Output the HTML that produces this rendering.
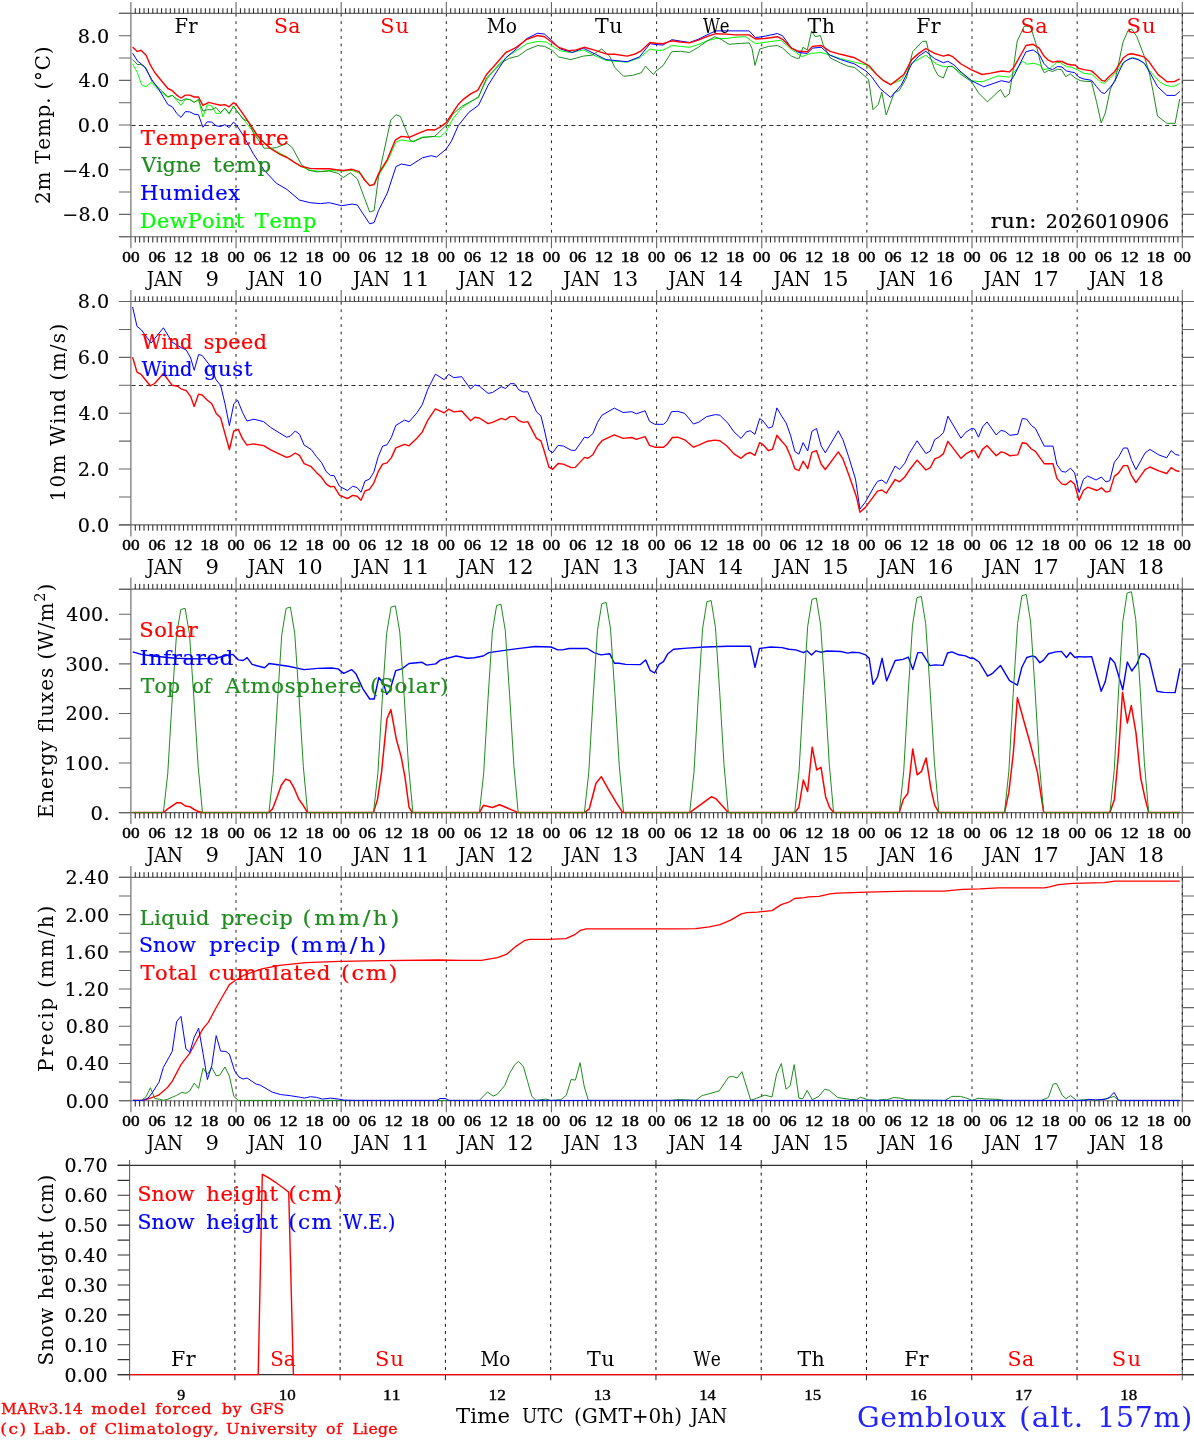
<!DOCTYPE html><html><head><meta charset="utf-8"><title>Gembloux meteogram</title>
<style>html,body{margin:0;padding:0;background:#fff;overflow:hidden;}svg{display:block;}text{font-family:"DejaVu Serif", "Liberation Serif", serif;font-kerning:none;font-variant-ligatures:none;font-feature-settings:"liga" 0,"clig" 0;}</style></head><body>
<svg width="1194" height="1440" viewBox="0 0 1194 1440">
<rect width="1194" height="1440" fill="#fff"/>
<g stroke="#666" stroke-width="1.1" fill="none">
<path d="M118.9 13.4H1194M118.9 236.7H1194"/>
<path stroke="#666" d="M130.9 1.9V248.2M1182.3 1.9V248.2"/>
</g>
<path stroke="#222" stroke-width="1" d="M135.28 8.2V13.4M135.28 236.7V242.5M139.66 8.2V13.4M139.66 236.7V242.5M144.04 8.2V13.4M144.04 236.7V242.5M148.42 8.2V13.4M148.42 236.7V242.5M152.8 8.2V13.4M152.8 236.7V242.5M157.19 8.2V13.4M157.19 236.7V242.5M161.57 8.2V13.4M161.57 236.7V242.5M165.95 8.2V13.4M165.95 236.7V242.5M170.33 8.2V13.4M170.33 236.7V242.5M174.71 8.2V13.4M174.71 236.7V242.5M179.09 8.2V13.4M179.09 236.7V242.5M183.47 8.2V13.4M183.47 236.7V242.5M187.85 8.2V13.4M187.85 236.7V242.5M192.23 8.2V13.4M192.23 236.7V242.5M196.61 8.2V13.4M196.61 236.7V242.5M200.99 8.2V13.4M200.99 236.7V242.5M205.37 8.2V13.4M205.37 236.7V242.5M209.75 8.2V13.4M209.75 236.7V242.5M214.14 8.2V13.4M214.14 236.7V242.5M218.52 8.2V13.4M218.52 236.7V242.5M222.9 8.2V13.4M222.9 236.7V242.5M227.28 8.2V13.4M227.28 236.7V242.5M231.66 8.2V13.4M231.66 236.7V242.5M240.42 8.2V13.4M240.42 236.7V242.5M244.8 8.2V13.4M244.8 236.7V242.5M249.18 8.2V13.4M249.18 236.7V242.5M253.56 8.2V13.4M253.56 236.7V242.5M257.94 8.2V13.4M257.94 236.7V242.5M262.32 8.2V13.4M262.32 236.7V242.5M266.71 8.2V13.4M266.71 236.7V242.5M271.09 8.2V13.4M271.09 236.7V242.5M275.47 8.2V13.4M275.47 236.7V242.5M279.85 8.2V13.4M279.85 236.7V242.5M284.23 8.2V13.4M284.23 236.7V242.5M288.61 8.2V13.4M288.61 236.7V242.5M292.99 8.2V13.4M292.99 236.7V242.5M297.37 8.2V13.4M297.37 236.7V242.5M301.75 8.2V13.4M301.75 236.7V242.5M306.13 8.2V13.4M306.13 236.7V242.5M310.51 8.2V13.4M310.51 236.7V242.5M314.89 8.2V13.4M314.89 236.7V242.5M319.28 8.2V13.4M319.28 236.7V242.5M323.66 8.2V13.4M323.66 236.7V242.5M328.04 8.2V13.4M328.04 236.7V242.5M332.42 8.2V13.4M332.42 236.7V242.5M336.8 8.2V13.4M336.8 236.7V242.5M345.56 8.2V13.4M345.56 236.7V242.5M349.94 8.2V13.4M349.94 236.7V242.5M354.32 8.2V13.4M354.32 236.7V242.5M358.7 8.2V13.4M358.7 236.7V242.5M363.08 8.2V13.4M363.08 236.7V242.5M367.46 8.2V13.4M367.46 236.7V242.5M371.85 8.2V13.4M371.85 236.7V242.5M376.23 8.2V13.4M376.23 236.7V242.5M380.61 8.2V13.4M380.61 236.7V242.5M384.99 8.2V13.4M384.99 236.7V242.5M389.37 8.2V13.4M389.37 236.7V242.5M393.75 8.2V13.4M393.75 236.7V242.5M398.13 8.2V13.4M398.13 236.7V242.5M402.51 8.2V13.4M402.51 236.7V242.5M406.89 8.2V13.4M406.89 236.7V242.5M411.27 8.2V13.4M411.27 236.7V242.5M415.65 8.2V13.4M415.65 236.7V242.5M420.03 8.2V13.4M420.03 236.7V242.5M424.42 8.2V13.4M424.42 236.7V242.5M428.8 8.2V13.4M428.8 236.7V242.5M433.18 8.2V13.4M433.18 236.7V242.5M437.56 8.2V13.4M437.56 236.7V242.5M441.94 8.2V13.4M441.94 236.7V242.5M450.7 8.2V13.4M450.7 236.7V242.5M455.08 8.2V13.4M455.08 236.7V242.5M459.46 8.2V13.4M459.46 236.7V242.5M463.84 8.2V13.4M463.84 236.7V242.5M468.22 8.2V13.4M468.22 236.7V242.5M472.61 8.2V13.4M472.61 236.7V242.5M476.99 8.2V13.4M476.99 236.7V242.5M481.37 8.2V13.4M481.37 236.7V242.5M485.75 8.2V13.4M485.75 236.7V242.5M490.13 8.2V13.4M490.13 236.7V242.5M494.51 8.2V13.4M494.51 236.7V242.5M498.89 8.2V13.4M498.89 236.7V242.5M503.27 8.2V13.4M503.27 236.7V242.5M507.65 8.2V13.4M507.65 236.7V242.5M512.03 8.2V13.4M512.03 236.7V242.5M516.41 8.2V13.4M516.41 236.7V242.5M520.79 8.2V13.4M520.79 236.7V242.5M525.17 8.2V13.4M525.17 236.7V242.5M529.56 8.2V13.4M529.56 236.7V242.5M533.94 8.2V13.4M533.94 236.7V242.5M538.32 8.2V13.4M538.32 236.7V242.5M542.7 8.2V13.4M542.7 236.7V242.5M547.08 8.2V13.4M547.08 236.7V242.5M555.84 8.2V13.4M555.84 236.7V242.5M560.22 8.2V13.4M560.22 236.7V242.5M564.6 8.2V13.4M564.6 236.7V242.5M568.98 8.2V13.4M568.98 236.7V242.5M573.36 8.2V13.4M573.36 236.7V242.5M577.74 8.2V13.4M577.74 236.7V242.5M582.13 8.2V13.4M582.13 236.7V242.5M586.51 8.2V13.4M586.51 236.7V242.5M590.89 8.2V13.4M590.89 236.7V242.5M595.27 8.2V13.4M595.27 236.7V242.5M599.65 8.2V13.4M599.65 236.7V242.5M604.03 8.2V13.4M604.03 236.7V242.5M608.41 8.2V13.4M608.41 236.7V242.5M612.79 8.2V13.4M612.79 236.7V242.5M617.17 8.2V13.4M617.17 236.7V242.5M621.55 8.2V13.4M621.55 236.7V242.5M625.93 8.2V13.4M625.93 236.7V242.5M630.31 8.2V13.4M630.31 236.7V242.5M634.7 8.2V13.4M634.7 236.7V242.5M639.08 8.2V13.4M639.08 236.7V242.5M643.46 8.2V13.4M643.46 236.7V242.5M647.84 8.2V13.4M647.84 236.7V242.5M652.22 8.2V13.4M652.22 236.7V242.5M660.98 8.2V13.4M660.98 236.7V242.5M665.36 8.2V13.4M665.36 236.7V242.5M669.74 8.2V13.4M669.74 236.7V242.5M674.12 8.2V13.4M674.12 236.7V242.5M678.5 8.2V13.4M678.5 236.7V242.5M682.88 8.2V13.4M682.88 236.7V242.5M687.27 8.2V13.4M687.27 236.7V242.5M691.65 8.2V13.4M691.65 236.7V242.5M696.03 8.2V13.4M696.03 236.7V242.5M700.41 8.2V13.4M700.41 236.7V242.5M704.79 8.2V13.4M704.79 236.7V242.5M709.17 8.2V13.4M709.17 236.7V242.5M713.55 8.2V13.4M713.55 236.7V242.5M717.93 8.2V13.4M717.93 236.7V242.5M722.31 8.2V13.4M722.31 236.7V242.5M726.69 8.2V13.4M726.69 236.7V242.5M731.07 8.2V13.4M731.07 236.7V242.5M735.45 8.2V13.4M735.45 236.7V242.5M739.84 8.2V13.4M739.84 236.7V242.5M744.22 8.2V13.4M744.22 236.7V242.5M748.6 8.2V13.4M748.6 236.7V242.5M752.98 8.2V13.4M752.98 236.7V242.5M757.36 8.2V13.4M757.36 236.7V242.5M766.12 8.2V13.4M766.12 236.7V242.5M770.5 8.2V13.4M770.5 236.7V242.5M774.88 8.2V13.4M774.88 236.7V242.5M779.26 8.2V13.4M779.26 236.7V242.5M783.64 8.2V13.4M783.64 236.7V242.5M788.02 8.2V13.4M788.02 236.7V242.5M792.41 8.2V13.4M792.41 236.7V242.5M796.79 8.2V13.4M796.79 236.7V242.5M801.17 8.2V13.4M801.17 236.7V242.5M805.55 8.2V13.4M805.55 236.7V242.5M809.93 8.2V13.4M809.93 236.7V242.5M814.31 8.2V13.4M814.31 236.7V242.5M818.69 8.2V13.4M818.69 236.7V242.5M823.07 8.2V13.4M823.07 236.7V242.5M827.45 8.2V13.4M827.45 236.7V242.5M831.83 8.2V13.4M831.83 236.7V242.5M836.21 8.2V13.4M836.21 236.7V242.5M840.59 8.2V13.4M840.59 236.7V242.5M844.98 8.2V13.4M844.98 236.7V242.5M849.36 8.2V13.4M849.36 236.7V242.5M853.74 8.2V13.4M853.74 236.7V242.5M858.12 8.2V13.4M858.12 236.7V242.5M862.5 8.2V13.4M862.5 236.7V242.5M871.26 8.2V13.4M871.26 236.7V242.5M875.64 8.2V13.4M875.64 236.7V242.5M880.02 8.2V13.4M880.02 236.7V242.5M884.4 8.2V13.4M884.4 236.7V242.5M888.78 8.2V13.4M888.78 236.7V242.5M893.16 8.2V13.4M893.16 236.7V242.5M897.55 8.2V13.4M897.55 236.7V242.5M901.93 8.2V13.4M901.93 236.7V242.5M906.31 8.2V13.4M906.31 236.7V242.5M910.69 8.2V13.4M910.69 236.7V242.5M915.07 8.2V13.4M915.07 236.7V242.5M919.45 8.2V13.4M919.45 236.7V242.5M923.83 8.2V13.4M923.83 236.7V242.5M928.21 8.2V13.4M928.21 236.7V242.5M932.59 8.2V13.4M932.59 236.7V242.5M936.97 8.2V13.4M936.97 236.7V242.5M941.35 8.2V13.4M941.35 236.7V242.5M945.73 8.2V13.4M945.73 236.7V242.5M950.12 8.2V13.4M950.12 236.7V242.5M954.5 8.2V13.4M954.5 236.7V242.5M958.88 8.2V13.4M958.88 236.7V242.5M963.26 8.2V13.4M963.26 236.7V242.5M967.64 8.2V13.4M967.64 236.7V242.5M976.4 8.2V13.4M976.4 236.7V242.5M980.78 8.2V13.4M980.78 236.7V242.5M985.16 8.2V13.4M985.16 236.7V242.5M989.54 8.2V13.4M989.54 236.7V242.5M993.92 8.2V13.4M993.92 236.7V242.5M998.3 8.2V13.4M998.3 236.7V242.5M1002.69 8.2V13.4M1002.69 236.7V242.5M1007.07 8.2V13.4M1007.07 236.7V242.5M1011.45 8.2V13.4M1011.45 236.7V242.5M1015.83 8.2V13.4M1015.83 236.7V242.5M1020.21 8.2V13.4M1020.21 236.7V242.5M1024.59 8.2V13.4M1024.59 236.7V242.5M1028.97 8.2V13.4M1028.97 236.7V242.5M1033.35 8.2V13.4M1033.35 236.7V242.5M1037.73 8.2V13.4M1037.73 236.7V242.5M1042.11 8.2V13.4M1042.11 236.7V242.5M1046.49 8.2V13.4M1046.49 236.7V242.5M1050.88 8.2V13.4M1050.88 236.7V242.5M1055.26 8.2V13.4M1055.26 236.7V242.5M1059.64 8.2V13.4M1059.64 236.7V242.5M1064.02 8.2V13.4M1064.02 236.7V242.5M1068.4 8.2V13.4M1068.4 236.7V242.5M1072.78 8.2V13.4M1072.78 236.7V242.5M1081.54 8.2V13.4M1081.54 236.7V242.5M1085.92 8.2V13.4M1085.92 236.7V242.5M1090.3 8.2V13.4M1090.3 236.7V242.5M1094.68 8.2V13.4M1094.68 236.7V242.5M1099.06 8.2V13.4M1099.06 236.7V242.5M1103.44 8.2V13.4M1103.44 236.7V242.5M1107.83 8.2V13.4M1107.83 236.7V242.5M1112.21 8.2V13.4M1112.21 236.7V242.5M1116.59 8.2V13.4M1116.59 236.7V242.5M1120.97 8.2V13.4M1120.97 236.7V242.5M1125.35 8.2V13.4M1125.35 236.7V242.5M1129.73 8.2V13.4M1129.73 236.7V242.5M1134.11 8.2V13.4M1134.11 236.7V242.5M1138.49 8.2V13.4M1138.49 236.7V242.5M1142.87 8.2V13.4M1142.87 236.7V242.5M1147.25 8.2V13.4M1147.25 236.7V242.5M1151.63 8.2V13.4M1151.63 236.7V242.5M1156.01 8.2V13.4M1156.01 236.7V242.5M1160.4 8.2V13.4M1160.4 236.7V242.5M1164.78 8.2V13.4M1164.78 236.7V242.5M1169.16 8.2V13.4M1169.16 236.7V242.5M1173.54 8.2V13.4M1173.54 236.7V242.5M1177.92 8.2V13.4M1177.92 236.7V242.5"/>
<path stroke="#666" stroke-width="1.1" d="M236.04 1.9V13.4M236.04 236.7V248.2M341.18 1.9V13.4M341.18 236.7V248.2M446.32 1.9V13.4M446.32 236.7V248.2M551.46 1.9V13.4M551.46 236.7V248.2M656.6 1.9V13.4M656.6 236.7V248.2M761.74 1.9V13.4M761.74 236.7V248.2M866.88 1.9V13.4M866.88 236.7V248.2M972.02 1.9V13.4M972.02 236.7V248.2M1077.16 1.9V13.4M1077.16 236.7V248.2"/>
<g stroke="#666" stroke-width="1.1" fill="none">
<path d="M118.9 301.5H1194M118.9 524.9H1194"/>
<path stroke="#666" d="M130.9 290V536.4M1182.3 290V536.4"/>
</g>
<path stroke="#222" stroke-width="1" d="M135.28 296.3V301.5M135.28 524.9V530.7M139.66 296.3V301.5M139.66 524.9V530.7M144.04 296.3V301.5M144.04 524.9V530.7M148.42 296.3V301.5M148.42 524.9V530.7M152.8 296.3V301.5M152.8 524.9V530.7M157.19 296.3V301.5M157.19 524.9V530.7M161.57 296.3V301.5M161.57 524.9V530.7M165.95 296.3V301.5M165.95 524.9V530.7M170.33 296.3V301.5M170.33 524.9V530.7M174.71 296.3V301.5M174.71 524.9V530.7M179.09 296.3V301.5M179.09 524.9V530.7M183.47 296.3V301.5M183.47 524.9V530.7M187.85 296.3V301.5M187.85 524.9V530.7M192.23 296.3V301.5M192.23 524.9V530.7M196.61 296.3V301.5M196.61 524.9V530.7M200.99 296.3V301.5M200.99 524.9V530.7M205.37 296.3V301.5M205.37 524.9V530.7M209.75 296.3V301.5M209.75 524.9V530.7M214.14 296.3V301.5M214.14 524.9V530.7M218.52 296.3V301.5M218.52 524.9V530.7M222.9 296.3V301.5M222.9 524.9V530.7M227.28 296.3V301.5M227.28 524.9V530.7M231.66 296.3V301.5M231.66 524.9V530.7M240.42 296.3V301.5M240.42 524.9V530.7M244.8 296.3V301.5M244.8 524.9V530.7M249.18 296.3V301.5M249.18 524.9V530.7M253.56 296.3V301.5M253.56 524.9V530.7M257.94 296.3V301.5M257.94 524.9V530.7M262.32 296.3V301.5M262.32 524.9V530.7M266.71 296.3V301.5M266.71 524.9V530.7M271.09 296.3V301.5M271.09 524.9V530.7M275.47 296.3V301.5M275.47 524.9V530.7M279.85 296.3V301.5M279.85 524.9V530.7M284.23 296.3V301.5M284.23 524.9V530.7M288.61 296.3V301.5M288.61 524.9V530.7M292.99 296.3V301.5M292.99 524.9V530.7M297.37 296.3V301.5M297.37 524.9V530.7M301.75 296.3V301.5M301.75 524.9V530.7M306.13 296.3V301.5M306.13 524.9V530.7M310.51 296.3V301.5M310.51 524.9V530.7M314.89 296.3V301.5M314.89 524.9V530.7M319.28 296.3V301.5M319.28 524.9V530.7M323.66 296.3V301.5M323.66 524.9V530.7M328.04 296.3V301.5M328.04 524.9V530.7M332.42 296.3V301.5M332.42 524.9V530.7M336.8 296.3V301.5M336.8 524.9V530.7M345.56 296.3V301.5M345.56 524.9V530.7M349.94 296.3V301.5M349.94 524.9V530.7M354.32 296.3V301.5M354.32 524.9V530.7M358.7 296.3V301.5M358.7 524.9V530.7M363.08 296.3V301.5M363.08 524.9V530.7M367.46 296.3V301.5M367.46 524.9V530.7M371.85 296.3V301.5M371.85 524.9V530.7M376.23 296.3V301.5M376.23 524.9V530.7M380.61 296.3V301.5M380.61 524.9V530.7M384.99 296.3V301.5M384.99 524.9V530.7M389.37 296.3V301.5M389.37 524.9V530.7M393.75 296.3V301.5M393.75 524.9V530.7M398.13 296.3V301.5M398.13 524.9V530.7M402.51 296.3V301.5M402.51 524.9V530.7M406.89 296.3V301.5M406.89 524.9V530.7M411.27 296.3V301.5M411.27 524.9V530.7M415.65 296.3V301.5M415.65 524.9V530.7M420.03 296.3V301.5M420.03 524.9V530.7M424.42 296.3V301.5M424.42 524.9V530.7M428.8 296.3V301.5M428.8 524.9V530.7M433.18 296.3V301.5M433.18 524.9V530.7M437.56 296.3V301.5M437.56 524.9V530.7M441.94 296.3V301.5M441.94 524.9V530.7M450.7 296.3V301.5M450.7 524.9V530.7M455.08 296.3V301.5M455.08 524.9V530.7M459.46 296.3V301.5M459.46 524.9V530.7M463.84 296.3V301.5M463.84 524.9V530.7M468.22 296.3V301.5M468.22 524.9V530.7M472.61 296.3V301.5M472.61 524.9V530.7M476.99 296.3V301.5M476.99 524.9V530.7M481.37 296.3V301.5M481.37 524.9V530.7M485.75 296.3V301.5M485.75 524.9V530.7M490.13 296.3V301.5M490.13 524.9V530.7M494.51 296.3V301.5M494.51 524.9V530.7M498.89 296.3V301.5M498.89 524.9V530.7M503.27 296.3V301.5M503.27 524.9V530.7M507.65 296.3V301.5M507.65 524.9V530.7M512.03 296.3V301.5M512.03 524.9V530.7M516.41 296.3V301.5M516.41 524.9V530.7M520.79 296.3V301.5M520.79 524.9V530.7M525.17 296.3V301.5M525.17 524.9V530.7M529.56 296.3V301.5M529.56 524.9V530.7M533.94 296.3V301.5M533.94 524.9V530.7M538.32 296.3V301.5M538.32 524.9V530.7M542.7 296.3V301.5M542.7 524.9V530.7M547.08 296.3V301.5M547.08 524.9V530.7M555.84 296.3V301.5M555.84 524.9V530.7M560.22 296.3V301.5M560.22 524.9V530.7M564.6 296.3V301.5M564.6 524.9V530.7M568.98 296.3V301.5M568.98 524.9V530.7M573.36 296.3V301.5M573.36 524.9V530.7M577.74 296.3V301.5M577.74 524.9V530.7M582.13 296.3V301.5M582.13 524.9V530.7M586.51 296.3V301.5M586.51 524.9V530.7M590.89 296.3V301.5M590.89 524.9V530.7M595.27 296.3V301.5M595.27 524.9V530.7M599.65 296.3V301.5M599.65 524.9V530.7M604.03 296.3V301.5M604.03 524.9V530.7M608.41 296.3V301.5M608.41 524.9V530.7M612.79 296.3V301.5M612.79 524.9V530.7M617.17 296.3V301.5M617.17 524.9V530.7M621.55 296.3V301.5M621.55 524.9V530.7M625.93 296.3V301.5M625.93 524.9V530.7M630.31 296.3V301.5M630.31 524.9V530.7M634.7 296.3V301.5M634.7 524.9V530.7M639.08 296.3V301.5M639.08 524.9V530.7M643.46 296.3V301.5M643.46 524.9V530.7M647.84 296.3V301.5M647.84 524.9V530.7M652.22 296.3V301.5M652.22 524.9V530.7M660.98 296.3V301.5M660.98 524.9V530.7M665.36 296.3V301.5M665.36 524.9V530.7M669.74 296.3V301.5M669.74 524.9V530.7M674.12 296.3V301.5M674.12 524.9V530.7M678.5 296.3V301.5M678.5 524.9V530.7M682.88 296.3V301.5M682.88 524.9V530.7M687.27 296.3V301.5M687.27 524.9V530.7M691.65 296.3V301.5M691.65 524.9V530.7M696.03 296.3V301.5M696.03 524.9V530.7M700.41 296.3V301.5M700.41 524.9V530.7M704.79 296.3V301.5M704.79 524.9V530.7M709.17 296.3V301.5M709.17 524.9V530.7M713.55 296.3V301.5M713.55 524.9V530.7M717.93 296.3V301.5M717.93 524.9V530.7M722.31 296.3V301.5M722.31 524.9V530.7M726.69 296.3V301.5M726.69 524.9V530.7M731.07 296.3V301.5M731.07 524.9V530.7M735.45 296.3V301.5M735.45 524.9V530.7M739.84 296.3V301.5M739.84 524.9V530.7M744.22 296.3V301.5M744.22 524.9V530.7M748.6 296.3V301.5M748.6 524.9V530.7M752.98 296.3V301.5M752.98 524.9V530.7M757.36 296.3V301.5M757.36 524.9V530.7M766.12 296.3V301.5M766.12 524.9V530.7M770.5 296.3V301.5M770.5 524.9V530.7M774.88 296.3V301.5M774.88 524.9V530.7M779.26 296.3V301.5M779.26 524.9V530.7M783.64 296.3V301.5M783.64 524.9V530.7M788.02 296.3V301.5M788.02 524.9V530.7M792.41 296.3V301.5M792.41 524.9V530.7M796.79 296.3V301.5M796.79 524.9V530.7M801.17 296.3V301.5M801.17 524.9V530.7M805.55 296.3V301.5M805.55 524.9V530.7M809.93 296.3V301.5M809.93 524.9V530.7M814.31 296.3V301.5M814.31 524.9V530.7M818.69 296.3V301.5M818.69 524.9V530.7M823.07 296.3V301.5M823.07 524.9V530.7M827.45 296.3V301.5M827.45 524.9V530.7M831.83 296.3V301.5M831.83 524.9V530.7M836.21 296.3V301.5M836.21 524.9V530.7M840.59 296.3V301.5M840.59 524.9V530.7M844.98 296.3V301.5M844.98 524.9V530.7M849.36 296.3V301.5M849.36 524.9V530.7M853.74 296.3V301.5M853.74 524.9V530.7M858.12 296.3V301.5M858.12 524.9V530.7M862.5 296.3V301.5M862.5 524.9V530.7M871.26 296.3V301.5M871.26 524.9V530.7M875.64 296.3V301.5M875.64 524.9V530.7M880.02 296.3V301.5M880.02 524.9V530.7M884.4 296.3V301.5M884.4 524.9V530.7M888.78 296.3V301.5M888.78 524.9V530.7M893.16 296.3V301.5M893.16 524.9V530.7M897.55 296.3V301.5M897.55 524.9V530.7M901.93 296.3V301.5M901.93 524.9V530.7M906.31 296.3V301.5M906.31 524.9V530.7M910.69 296.3V301.5M910.69 524.9V530.7M915.07 296.3V301.5M915.07 524.9V530.7M919.45 296.3V301.5M919.45 524.9V530.7M923.83 296.3V301.5M923.83 524.9V530.7M928.21 296.3V301.5M928.21 524.9V530.7M932.59 296.3V301.5M932.59 524.9V530.7M936.97 296.3V301.5M936.97 524.9V530.7M941.35 296.3V301.5M941.35 524.9V530.7M945.73 296.3V301.5M945.73 524.9V530.7M950.12 296.3V301.5M950.12 524.9V530.7M954.5 296.3V301.5M954.5 524.9V530.7M958.88 296.3V301.5M958.88 524.9V530.7M963.26 296.3V301.5M963.26 524.9V530.7M967.64 296.3V301.5M967.64 524.9V530.7M976.4 296.3V301.5M976.4 524.9V530.7M980.78 296.3V301.5M980.78 524.9V530.7M985.16 296.3V301.5M985.16 524.9V530.7M989.54 296.3V301.5M989.54 524.9V530.7M993.92 296.3V301.5M993.92 524.9V530.7M998.3 296.3V301.5M998.3 524.9V530.7M1002.69 296.3V301.5M1002.69 524.9V530.7M1007.07 296.3V301.5M1007.07 524.9V530.7M1011.45 296.3V301.5M1011.45 524.9V530.7M1015.83 296.3V301.5M1015.83 524.9V530.7M1020.21 296.3V301.5M1020.21 524.9V530.7M1024.59 296.3V301.5M1024.59 524.9V530.7M1028.97 296.3V301.5M1028.97 524.9V530.7M1033.35 296.3V301.5M1033.35 524.9V530.7M1037.73 296.3V301.5M1037.73 524.9V530.7M1042.11 296.3V301.5M1042.11 524.9V530.7M1046.49 296.3V301.5M1046.49 524.9V530.7M1050.88 296.3V301.5M1050.88 524.9V530.7M1055.26 296.3V301.5M1055.26 524.9V530.7M1059.64 296.3V301.5M1059.64 524.9V530.7M1064.02 296.3V301.5M1064.02 524.9V530.7M1068.4 296.3V301.5M1068.4 524.9V530.7M1072.78 296.3V301.5M1072.78 524.9V530.7M1081.54 296.3V301.5M1081.54 524.9V530.7M1085.92 296.3V301.5M1085.92 524.9V530.7M1090.3 296.3V301.5M1090.3 524.9V530.7M1094.68 296.3V301.5M1094.68 524.9V530.7M1099.06 296.3V301.5M1099.06 524.9V530.7M1103.44 296.3V301.5M1103.44 524.9V530.7M1107.83 296.3V301.5M1107.83 524.9V530.7M1112.21 296.3V301.5M1112.21 524.9V530.7M1116.59 296.3V301.5M1116.59 524.9V530.7M1120.97 296.3V301.5M1120.97 524.9V530.7M1125.35 296.3V301.5M1125.35 524.9V530.7M1129.73 296.3V301.5M1129.73 524.9V530.7M1134.11 296.3V301.5M1134.11 524.9V530.7M1138.49 296.3V301.5M1138.49 524.9V530.7M1142.87 296.3V301.5M1142.87 524.9V530.7M1147.25 296.3V301.5M1147.25 524.9V530.7M1151.63 296.3V301.5M1151.63 524.9V530.7M1156.01 296.3V301.5M1156.01 524.9V530.7M1160.4 296.3V301.5M1160.4 524.9V530.7M1164.78 296.3V301.5M1164.78 524.9V530.7M1169.16 296.3V301.5M1169.16 524.9V530.7M1173.54 296.3V301.5M1173.54 524.9V530.7M1177.92 296.3V301.5M1177.92 524.9V530.7"/>
<path stroke="#666" stroke-width="1.1" d="M236.04 290V301.5M236.04 524.9V536.4M341.18 290V301.5M341.18 524.9V536.4M446.32 290V301.5M446.32 524.9V536.4M551.46 290V301.5M551.46 524.9V536.4M656.6 290V301.5M656.6 524.9V536.4M761.74 290V301.5M761.74 524.9V536.4M866.88 290V301.5M866.88 524.9V536.4M972.02 290V301.5M972.02 524.9V536.4M1077.16 290V301.5M1077.16 524.9V536.4"/>
<g stroke="#666" stroke-width="1.1" fill="none">
<path d="M118.9 589.1H1194M118.9 812.6H1194"/>
<path stroke="#666" d="M130.9 577.6V824.1M1182.3 577.6V824.1"/>
</g>
<path stroke="#222" stroke-width="1" d="M135.28 583.9V589.1M135.28 812.6V818.4M139.66 583.9V589.1M139.66 812.6V818.4M144.04 583.9V589.1M144.04 812.6V818.4M148.42 583.9V589.1M148.42 812.6V818.4M152.8 583.9V589.1M152.8 812.6V818.4M157.19 583.9V589.1M157.19 812.6V818.4M161.57 583.9V589.1M161.57 812.6V818.4M165.95 583.9V589.1M165.95 812.6V818.4M170.33 583.9V589.1M170.33 812.6V818.4M174.71 583.9V589.1M174.71 812.6V818.4M179.09 583.9V589.1M179.09 812.6V818.4M183.47 583.9V589.1M183.47 812.6V818.4M187.85 583.9V589.1M187.85 812.6V818.4M192.23 583.9V589.1M192.23 812.6V818.4M196.61 583.9V589.1M196.61 812.6V818.4M200.99 583.9V589.1M200.99 812.6V818.4M205.37 583.9V589.1M205.37 812.6V818.4M209.75 583.9V589.1M209.75 812.6V818.4M214.14 583.9V589.1M214.14 812.6V818.4M218.52 583.9V589.1M218.52 812.6V818.4M222.9 583.9V589.1M222.9 812.6V818.4M227.28 583.9V589.1M227.28 812.6V818.4M231.66 583.9V589.1M231.66 812.6V818.4M240.42 583.9V589.1M240.42 812.6V818.4M244.8 583.9V589.1M244.8 812.6V818.4M249.18 583.9V589.1M249.18 812.6V818.4M253.56 583.9V589.1M253.56 812.6V818.4M257.94 583.9V589.1M257.94 812.6V818.4M262.32 583.9V589.1M262.32 812.6V818.4M266.71 583.9V589.1M266.71 812.6V818.4M271.09 583.9V589.1M271.09 812.6V818.4M275.47 583.9V589.1M275.47 812.6V818.4M279.85 583.9V589.1M279.85 812.6V818.4M284.23 583.9V589.1M284.23 812.6V818.4M288.61 583.9V589.1M288.61 812.6V818.4M292.99 583.9V589.1M292.99 812.6V818.4M297.37 583.9V589.1M297.37 812.6V818.4M301.75 583.9V589.1M301.75 812.6V818.4M306.13 583.9V589.1M306.13 812.6V818.4M310.51 583.9V589.1M310.51 812.6V818.4M314.89 583.9V589.1M314.89 812.6V818.4M319.28 583.9V589.1M319.28 812.6V818.4M323.66 583.9V589.1M323.66 812.6V818.4M328.04 583.9V589.1M328.04 812.6V818.4M332.42 583.9V589.1M332.42 812.6V818.4M336.8 583.9V589.1M336.8 812.6V818.4M345.56 583.9V589.1M345.56 812.6V818.4M349.94 583.9V589.1M349.94 812.6V818.4M354.32 583.9V589.1M354.32 812.6V818.4M358.7 583.9V589.1M358.7 812.6V818.4M363.08 583.9V589.1M363.08 812.6V818.4M367.46 583.9V589.1M367.46 812.6V818.4M371.85 583.9V589.1M371.85 812.6V818.4M376.23 583.9V589.1M376.23 812.6V818.4M380.61 583.9V589.1M380.61 812.6V818.4M384.99 583.9V589.1M384.99 812.6V818.4M389.37 583.9V589.1M389.37 812.6V818.4M393.75 583.9V589.1M393.75 812.6V818.4M398.13 583.9V589.1M398.13 812.6V818.4M402.51 583.9V589.1M402.51 812.6V818.4M406.89 583.9V589.1M406.89 812.6V818.4M411.27 583.9V589.1M411.27 812.6V818.4M415.65 583.9V589.1M415.65 812.6V818.4M420.03 583.9V589.1M420.03 812.6V818.4M424.42 583.9V589.1M424.42 812.6V818.4M428.8 583.9V589.1M428.8 812.6V818.4M433.18 583.9V589.1M433.18 812.6V818.4M437.56 583.9V589.1M437.56 812.6V818.4M441.94 583.9V589.1M441.94 812.6V818.4M450.7 583.9V589.1M450.7 812.6V818.4M455.08 583.9V589.1M455.08 812.6V818.4M459.46 583.9V589.1M459.46 812.6V818.4M463.84 583.9V589.1M463.84 812.6V818.4M468.22 583.9V589.1M468.22 812.6V818.4M472.61 583.9V589.1M472.61 812.6V818.4M476.99 583.9V589.1M476.99 812.6V818.4M481.37 583.9V589.1M481.37 812.6V818.4M485.75 583.9V589.1M485.75 812.6V818.4M490.13 583.9V589.1M490.13 812.6V818.4M494.51 583.9V589.1M494.51 812.6V818.4M498.89 583.9V589.1M498.89 812.6V818.4M503.27 583.9V589.1M503.27 812.6V818.4M507.65 583.9V589.1M507.65 812.6V818.4M512.03 583.9V589.1M512.03 812.6V818.4M516.41 583.9V589.1M516.41 812.6V818.4M520.79 583.9V589.1M520.79 812.6V818.4M525.17 583.9V589.1M525.17 812.6V818.4M529.56 583.9V589.1M529.56 812.6V818.4M533.94 583.9V589.1M533.94 812.6V818.4M538.32 583.9V589.1M538.32 812.6V818.4M542.7 583.9V589.1M542.7 812.6V818.4M547.08 583.9V589.1M547.08 812.6V818.4M555.84 583.9V589.1M555.84 812.6V818.4M560.22 583.9V589.1M560.22 812.6V818.4M564.6 583.9V589.1M564.6 812.6V818.4M568.98 583.9V589.1M568.98 812.6V818.4M573.36 583.9V589.1M573.36 812.6V818.4M577.74 583.9V589.1M577.74 812.6V818.4M582.13 583.9V589.1M582.13 812.6V818.4M586.51 583.9V589.1M586.51 812.6V818.4M590.89 583.9V589.1M590.89 812.6V818.4M595.27 583.9V589.1M595.27 812.6V818.4M599.65 583.9V589.1M599.65 812.6V818.4M604.03 583.9V589.1M604.03 812.6V818.4M608.41 583.9V589.1M608.41 812.6V818.4M612.79 583.9V589.1M612.79 812.6V818.4M617.17 583.9V589.1M617.17 812.6V818.4M621.55 583.9V589.1M621.55 812.6V818.4M625.93 583.9V589.1M625.93 812.6V818.4M630.31 583.9V589.1M630.31 812.6V818.4M634.7 583.9V589.1M634.7 812.6V818.4M639.08 583.9V589.1M639.08 812.6V818.4M643.46 583.9V589.1M643.46 812.6V818.4M647.84 583.9V589.1M647.84 812.6V818.4M652.22 583.9V589.1M652.22 812.6V818.4M660.98 583.9V589.1M660.98 812.6V818.4M665.36 583.9V589.1M665.36 812.6V818.4M669.74 583.9V589.1M669.74 812.6V818.4M674.12 583.9V589.1M674.12 812.6V818.4M678.5 583.9V589.1M678.5 812.6V818.4M682.88 583.9V589.1M682.88 812.6V818.4M687.27 583.9V589.1M687.27 812.6V818.4M691.65 583.9V589.1M691.65 812.6V818.4M696.03 583.9V589.1M696.03 812.6V818.4M700.41 583.9V589.1M700.41 812.6V818.4M704.79 583.9V589.1M704.79 812.6V818.4M709.17 583.9V589.1M709.17 812.6V818.4M713.55 583.9V589.1M713.55 812.6V818.4M717.93 583.9V589.1M717.93 812.6V818.4M722.31 583.9V589.1M722.31 812.6V818.4M726.69 583.9V589.1M726.69 812.6V818.4M731.07 583.9V589.1M731.07 812.6V818.4M735.45 583.9V589.1M735.45 812.6V818.4M739.84 583.9V589.1M739.84 812.6V818.4M744.22 583.9V589.1M744.22 812.6V818.4M748.6 583.9V589.1M748.6 812.6V818.4M752.98 583.9V589.1M752.98 812.6V818.4M757.36 583.9V589.1M757.36 812.6V818.4M766.12 583.9V589.1M766.12 812.6V818.4M770.5 583.9V589.1M770.5 812.6V818.4M774.88 583.9V589.1M774.88 812.6V818.4M779.26 583.9V589.1M779.26 812.6V818.4M783.64 583.9V589.1M783.64 812.6V818.4M788.02 583.9V589.1M788.02 812.6V818.4M792.41 583.9V589.1M792.41 812.6V818.4M796.79 583.9V589.1M796.79 812.6V818.4M801.17 583.9V589.1M801.17 812.6V818.4M805.55 583.9V589.1M805.55 812.6V818.4M809.93 583.9V589.1M809.93 812.6V818.4M814.31 583.9V589.1M814.31 812.6V818.4M818.69 583.9V589.1M818.69 812.6V818.4M823.07 583.9V589.1M823.07 812.6V818.4M827.45 583.9V589.1M827.45 812.6V818.4M831.83 583.9V589.1M831.83 812.6V818.4M836.21 583.9V589.1M836.21 812.6V818.4M840.59 583.9V589.1M840.59 812.6V818.4M844.98 583.9V589.1M844.98 812.6V818.4M849.36 583.9V589.1M849.36 812.6V818.4M853.74 583.9V589.1M853.74 812.6V818.4M858.12 583.9V589.1M858.12 812.6V818.4M862.5 583.9V589.1M862.5 812.6V818.4M871.26 583.9V589.1M871.26 812.6V818.4M875.64 583.9V589.1M875.64 812.6V818.4M880.02 583.9V589.1M880.02 812.6V818.4M884.4 583.9V589.1M884.4 812.6V818.4M888.78 583.9V589.1M888.78 812.6V818.4M893.16 583.9V589.1M893.16 812.6V818.4M897.55 583.9V589.1M897.55 812.6V818.4M901.93 583.9V589.1M901.93 812.6V818.4M906.31 583.9V589.1M906.31 812.6V818.4M910.69 583.9V589.1M910.69 812.6V818.4M915.07 583.9V589.1M915.07 812.6V818.4M919.45 583.9V589.1M919.45 812.6V818.4M923.83 583.9V589.1M923.83 812.6V818.4M928.21 583.9V589.1M928.21 812.6V818.4M932.59 583.9V589.1M932.59 812.6V818.4M936.97 583.9V589.1M936.97 812.6V818.4M941.35 583.9V589.1M941.35 812.6V818.4M945.73 583.9V589.1M945.73 812.6V818.4M950.12 583.9V589.1M950.12 812.6V818.4M954.5 583.9V589.1M954.5 812.6V818.4M958.88 583.9V589.1M958.88 812.6V818.4M963.26 583.9V589.1M963.26 812.6V818.4M967.64 583.9V589.1M967.64 812.6V818.4M976.4 583.9V589.1M976.4 812.6V818.4M980.78 583.9V589.1M980.78 812.6V818.4M985.16 583.9V589.1M985.16 812.6V818.4M989.54 583.9V589.1M989.54 812.6V818.4M993.92 583.9V589.1M993.92 812.6V818.4M998.3 583.9V589.1M998.3 812.6V818.4M1002.69 583.9V589.1M1002.69 812.6V818.4M1007.07 583.9V589.1M1007.07 812.6V818.4M1011.45 583.9V589.1M1011.45 812.6V818.4M1015.83 583.9V589.1M1015.83 812.6V818.4M1020.21 583.9V589.1M1020.21 812.6V818.4M1024.59 583.9V589.1M1024.59 812.6V818.4M1028.97 583.9V589.1M1028.97 812.6V818.4M1033.35 583.9V589.1M1033.35 812.6V818.4M1037.73 583.9V589.1M1037.73 812.6V818.4M1042.11 583.9V589.1M1042.11 812.6V818.4M1046.49 583.9V589.1M1046.49 812.6V818.4M1050.88 583.9V589.1M1050.88 812.6V818.4M1055.26 583.9V589.1M1055.26 812.6V818.4M1059.64 583.9V589.1M1059.64 812.6V818.4M1064.02 583.9V589.1M1064.02 812.6V818.4M1068.4 583.9V589.1M1068.4 812.6V818.4M1072.78 583.9V589.1M1072.78 812.6V818.4M1081.54 583.9V589.1M1081.54 812.6V818.4M1085.92 583.9V589.1M1085.92 812.6V818.4M1090.3 583.9V589.1M1090.3 812.6V818.4M1094.68 583.9V589.1M1094.68 812.6V818.4M1099.06 583.9V589.1M1099.06 812.6V818.4M1103.44 583.9V589.1M1103.44 812.6V818.4M1107.83 583.9V589.1M1107.83 812.6V818.4M1112.21 583.9V589.1M1112.21 812.6V818.4M1116.59 583.9V589.1M1116.59 812.6V818.4M1120.97 583.9V589.1M1120.97 812.6V818.4M1125.35 583.9V589.1M1125.35 812.6V818.4M1129.73 583.9V589.1M1129.73 812.6V818.4M1134.11 583.9V589.1M1134.11 812.6V818.4M1138.49 583.9V589.1M1138.49 812.6V818.4M1142.87 583.9V589.1M1142.87 812.6V818.4M1147.25 583.9V589.1M1147.25 812.6V818.4M1151.63 583.9V589.1M1151.63 812.6V818.4M1156.01 583.9V589.1M1156.01 812.6V818.4M1160.4 583.9V589.1M1160.4 812.6V818.4M1164.78 583.9V589.1M1164.78 812.6V818.4M1169.16 583.9V589.1M1169.16 812.6V818.4M1173.54 583.9V589.1M1173.54 812.6V818.4M1177.92 583.9V589.1M1177.92 812.6V818.4"/>
<path stroke="#666" stroke-width="1.1" d="M236.04 577.6V589.1M236.04 812.6V824.1M341.18 577.6V589.1M341.18 812.6V824.1M446.32 577.6V589.1M446.32 812.6V824.1M551.46 577.6V589.1M551.46 812.6V824.1M656.6 577.6V589.1M656.6 812.6V824.1M761.74 577.6V589.1M761.74 812.6V824.1M866.88 577.6V589.1M866.88 812.6V824.1M972.02 577.6V589.1M972.02 812.6V824.1M1077.16 577.6V589.1M1077.16 812.6V824.1"/>
<g stroke="#666" stroke-width="1.1" fill="none">
<path d="M118.9 877.4H1194M118.9 1100.7H1194"/>
<path stroke="#666" d="M130.9 865.9V1112.2M1182.3 865.9V1112.2"/>
</g>
<path stroke="#222" stroke-width="1" d="M135.28 872.2V877.4M135.28 1100.7V1106.5M139.66 872.2V877.4M139.66 1100.7V1106.5M144.04 872.2V877.4M144.04 1100.7V1106.5M148.42 872.2V877.4M148.42 1100.7V1106.5M152.8 872.2V877.4M152.8 1100.7V1106.5M157.19 872.2V877.4M157.19 1100.7V1106.5M161.57 872.2V877.4M161.57 1100.7V1106.5M165.95 872.2V877.4M165.95 1100.7V1106.5M170.33 872.2V877.4M170.33 1100.7V1106.5M174.71 872.2V877.4M174.71 1100.7V1106.5M179.09 872.2V877.4M179.09 1100.7V1106.5M183.47 872.2V877.4M183.47 1100.7V1106.5M187.85 872.2V877.4M187.85 1100.7V1106.5M192.23 872.2V877.4M192.23 1100.7V1106.5M196.61 872.2V877.4M196.61 1100.7V1106.5M200.99 872.2V877.4M200.99 1100.7V1106.5M205.37 872.2V877.4M205.37 1100.7V1106.5M209.75 872.2V877.4M209.75 1100.7V1106.5M214.14 872.2V877.4M214.14 1100.7V1106.5M218.52 872.2V877.4M218.52 1100.7V1106.5M222.9 872.2V877.4M222.9 1100.7V1106.5M227.28 872.2V877.4M227.28 1100.7V1106.5M231.66 872.2V877.4M231.66 1100.7V1106.5M240.42 872.2V877.4M240.42 1100.7V1106.5M244.8 872.2V877.4M244.8 1100.7V1106.5M249.18 872.2V877.4M249.18 1100.7V1106.5M253.56 872.2V877.4M253.56 1100.7V1106.5M257.94 872.2V877.4M257.94 1100.7V1106.5M262.32 872.2V877.4M262.32 1100.7V1106.5M266.71 872.2V877.4M266.71 1100.7V1106.5M271.09 872.2V877.4M271.09 1100.7V1106.5M275.47 872.2V877.4M275.47 1100.7V1106.5M279.85 872.2V877.4M279.85 1100.7V1106.5M284.23 872.2V877.4M284.23 1100.7V1106.5M288.61 872.2V877.4M288.61 1100.7V1106.5M292.99 872.2V877.4M292.99 1100.7V1106.5M297.37 872.2V877.4M297.37 1100.7V1106.5M301.75 872.2V877.4M301.75 1100.7V1106.5M306.13 872.2V877.4M306.13 1100.7V1106.5M310.51 872.2V877.4M310.51 1100.7V1106.5M314.89 872.2V877.4M314.89 1100.7V1106.5M319.28 872.2V877.4M319.28 1100.7V1106.5M323.66 872.2V877.4M323.66 1100.7V1106.5M328.04 872.2V877.4M328.04 1100.7V1106.5M332.42 872.2V877.4M332.42 1100.7V1106.5M336.8 872.2V877.4M336.8 1100.7V1106.5M345.56 872.2V877.4M345.56 1100.7V1106.5M349.94 872.2V877.4M349.94 1100.7V1106.5M354.32 872.2V877.4M354.32 1100.7V1106.5M358.7 872.2V877.4M358.7 1100.7V1106.5M363.08 872.2V877.4M363.08 1100.7V1106.5M367.46 872.2V877.4M367.46 1100.7V1106.5M371.85 872.2V877.4M371.85 1100.7V1106.5M376.23 872.2V877.4M376.23 1100.7V1106.5M380.61 872.2V877.4M380.61 1100.7V1106.5M384.99 872.2V877.4M384.99 1100.7V1106.5M389.37 872.2V877.4M389.37 1100.7V1106.5M393.75 872.2V877.4M393.75 1100.7V1106.5M398.13 872.2V877.4M398.13 1100.7V1106.5M402.51 872.2V877.4M402.51 1100.7V1106.5M406.89 872.2V877.4M406.89 1100.7V1106.5M411.27 872.2V877.4M411.27 1100.7V1106.5M415.65 872.2V877.4M415.65 1100.7V1106.5M420.03 872.2V877.4M420.03 1100.7V1106.5M424.42 872.2V877.4M424.42 1100.7V1106.5M428.8 872.2V877.4M428.8 1100.7V1106.5M433.18 872.2V877.4M433.18 1100.7V1106.5M437.56 872.2V877.4M437.56 1100.7V1106.5M441.94 872.2V877.4M441.94 1100.7V1106.5M450.7 872.2V877.4M450.7 1100.7V1106.5M455.08 872.2V877.4M455.08 1100.7V1106.5M459.46 872.2V877.4M459.46 1100.7V1106.5M463.84 872.2V877.4M463.84 1100.7V1106.5M468.22 872.2V877.4M468.22 1100.7V1106.5M472.61 872.2V877.4M472.61 1100.7V1106.5M476.99 872.2V877.4M476.99 1100.7V1106.5M481.37 872.2V877.4M481.37 1100.7V1106.5M485.75 872.2V877.4M485.75 1100.7V1106.5M490.13 872.2V877.4M490.13 1100.7V1106.5M494.51 872.2V877.4M494.51 1100.7V1106.5M498.89 872.2V877.4M498.89 1100.7V1106.5M503.27 872.2V877.4M503.27 1100.7V1106.5M507.65 872.2V877.4M507.65 1100.7V1106.5M512.03 872.2V877.4M512.03 1100.7V1106.5M516.41 872.2V877.4M516.41 1100.7V1106.5M520.79 872.2V877.4M520.79 1100.7V1106.5M525.17 872.2V877.4M525.17 1100.7V1106.5M529.56 872.2V877.4M529.56 1100.7V1106.5M533.94 872.2V877.4M533.94 1100.7V1106.5M538.32 872.2V877.4M538.32 1100.7V1106.5M542.7 872.2V877.4M542.7 1100.7V1106.5M547.08 872.2V877.4M547.08 1100.7V1106.5M555.84 872.2V877.4M555.84 1100.7V1106.5M560.22 872.2V877.4M560.22 1100.7V1106.5M564.6 872.2V877.4M564.6 1100.7V1106.5M568.98 872.2V877.4M568.98 1100.7V1106.5M573.36 872.2V877.4M573.36 1100.7V1106.5M577.74 872.2V877.4M577.74 1100.7V1106.5M582.13 872.2V877.4M582.13 1100.7V1106.5M586.51 872.2V877.4M586.51 1100.7V1106.5M590.89 872.2V877.4M590.89 1100.7V1106.5M595.27 872.2V877.4M595.27 1100.7V1106.5M599.65 872.2V877.4M599.65 1100.7V1106.5M604.03 872.2V877.4M604.03 1100.7V1106.5M608.41 872.2V877.4M608.41 1100.7V1106.5M612.79 872.2V877.4M612.79 1100.7V1106.5M617.17 872.2V877.4M617.17 1100.7V1106.5M621.55 872.2V877.4M621.55 1100.7V1106.5M625.93 872.2V877.4M625.93 1100.7V1106.5M630.31 872.2V877.4M630.31 1100.7V1106.5M634.7 872.2V877.4M634.7 1100.7V1106.5M639.08 872.2V877.4M639.08 1100.7V1106.5M643.46 872.2V877.4M643.46 1100.7V1106.5M647.84 872.2V877.4M647.84 1100.7V1106.5M652.22 872.2V877.4M652.22 1100.7V1106.5M660.98 872.2V877.4M660.98 1100.7V1106.5M665.36 872.2V877.4M665.36 1100.7V1106.5M669.74 872.2V877.4M669.74 1100.7V1106.5M674.12 872.2V877.4M674.12 1100.7V1106.5M678.5 872.2V877.4M678.5 1100.7V1106.5M682.88 872.2V877.4M682.88 1100.7V1106.5M687.27 872.2V877.4M687.27 1100.7V1106.5M691.65 872.2V877.4M691.65 1100.7V1106.5M696.03 872.2V877.4M696.03 1100.7V1106.5M700.41 872.2V877.4M700.41 1100.7V1106.5M704.79 872.2V877.4M704.79 1100.7V1106.5M709.17 872.2V877.4M709.17 1100.7V1106.5M713.55 872.2V877.4M713.55 1100.7V1106.5M717.93 872.2V877.4M717.93 1100.7V1106.5M722.31 872.2V877.4M722.31 1100.7V1106.5M726.69 872.2V877.4M726.69 1100.7V1106.5M731.07 872.2V877.4M731.07 1100.7V1106.5M735.45 872.2V877.4M735.45 1100.7V1106.5M739.84 872.2V877.4M739.84 1100.7V1106.5M744.22 872.2V877.4M744.22 1100.7V1106.5M748.6 872.2V877.4M748.6 1100.7V1106.5M752.98 872.2V877.4M752.98 1100.7V1106.5M757.36 872.2V877.4M757.36 1100.7V1106.5M766.12 872.2V877.4M766.12 1100.7V1106.5M770.5 872.2V877.4M770.5 1100.7V1106.5M774.88 872.2V877.4M774.88 1100.7V1106.5M779.26 872.2V877.4M779.26 1100.7V1106.5M783.64 872.2V877.4M783.64 1100.7V1106.5M788.02 872.2V877.4M788.02 1100.7V1106.5M792.41 872.2V877.4M792.41 1100.7V1106.5M796.79 872.2V877.4M796.79 1100.7V1106.5M801.17 872.2V877.4M801.17 1100.7V1106.5M805.55 872.2V877.4M805.55 1100.7V1106.5M809.93 872.2V877.4M809.93 1100.7V1106.5M814.31 872.2V877.4M814.31 1100.7V1106.5M818.69 872.2V877.4M818.69 1100.7V1106.5M823.07 872.2V877.4M823.07 1100.7V1106.5M827.45 872.2V877.4M827.45 1100.7V1106.5M831.83 872.2V877.4M831.83 1100.7V1106.5M836.21 872.2V877.4M836.21 1100.7V1106.5M840.59 872.2V877.4M840.59 1100.7V1106.5M844.98 872.2V877.4M844.98 1100.7V1106.5M849.36 872.2V877.4M849.36 1100.7V1106.5M853.74 872.2V877.4M853.74 1100.7V1106.5M858.12 872.2V877.4M858.12 1100.7V1106.5M862.5 872.2V877.4M862.5 1100.7V1106.5M871.26 872.2V877.4M871.26 1100.7V1106.5M875.64 872.2V877.4M875.64 1100.7V1106.5M880.02 872.2V877.4M880.02 1100.7V1106.5M884.4 872.2V877.4M884.4 1100.7V1106.5M888.78 872.2V877.4M888.78 1100.7V1106.5M893.16 872.2V877.4M893.16 1100.7V1106.5M897.55 872.2V877.4M897.55 1100.7V1106.5M901.93 872.2V877.4M901.93 1100.7V1106.5M906.31 872.2V877.4M906.31 1100.7V1106.5M910.69 872.2V877.4M910.69 1100.7V1106.5M915.07 872.2V877.4M915.07 1100.7V1106.5M919.45 872.2V877.4M919.45 1100.7V1106.5M923.83 872.2V877.4M923.83 1100.7V1106.5M928.21 872.2V877.4M928.21 1100.7V1106.5M932.59 872.2V877.4M932.59 1100.7V1106.5M936.97 872.2V877.4M936.97 1100.7V1106.5M941.35 872.2V877.4M941.35 1100.7V1106.5M945.73 872.2V877.4M945.73 1100.7V1106.5M950.12 872.2V877.4M950.12 1100.7V1106.5M954.5 872.2V877.4M954.5 1100.7V1106.5M958.88 872.2V877.4M958.88 1100.7V1106.5M963.26 872.2V877.4M963.26 1100.7V1106.5M967.64 872.2V877.4M967.64 1100.7V1106.5M976.4 872.2V877.4M976.4 1100.7V1106.5M980.78 872.2V877.4M980.78 1100.7V1106.5M985.16 872.2V877.4M985.16 1100.7V1106.5M989.54 872.2V877.4M989.54 1100.7V1106.5M993.92 872.2V877.4M993.92 1100.7V1106.5M998.3 872.2V877.4M998.3 1100.7V1106.5M1002.69 872.2V877.4M1002.69 1100.7V1106.5M1007.07 872.2V877.4M1007.07 1100.7V1106.5M1011.45 872.2V877.4M1011.45 1100.7V1106.5M1015.83 872.2V877.4M1015.83 1100.7V1106.5M1020.21 872.2V877.4M1020.21 1100.7V1106.5M1024.59 872.2V877.4M1024.59 1100.7V1106.5M1028.97 872.2V877.4M1028.97 1100.7V1106.5M1033.35 872.2V877.4M1033.35 1100.7V1106.5M1037.73 872.2V877.4M1037.73 1100.7V1106.5M1042.11 872.2V877.4M1042.11 1100.7V1106.5M1046.49 872.2V877.4M1046.49 1100.7V1106.5M1050.88 872.2V877.4M1050.88 1100.7V1106.5M1055.26 872.2V877.4M1055.26 1100.7V1106.5M1059.64 872.2V877.4M1059.64 1100.7V1106.5M1064.02 872.2V877.4M1064.02 1100.7V1106.5M1068.4 872.2V877.4M1068.4 1100.7V1106.5M1072.78 872.2V877.4M1072.78 1100.7V1106.5M1081.54 872.2V877.4M1081.54 1100.7V1106.5M1085.92 872.2V877.4M1085.92 1100.7V1106.5M1090.3 872.2V877.4M1090.3 1100.7V1106.5M1094.68 872.2V877.4M1094.68 1100.7V1106.5M1099.06 872.2V877.4M1099.06 1100.7V1106.5M1103.44 872.2V877.4M1103.44 1100.7V1106.5M1107.83 872.2V877.4M1107.83 1100.7V1106.5M1112.21 872.2V877.4M1112.21 1100.7V1106.5M1116.59 872.2V877.4M1116.59 1100.7V1106.5M1120.97 872.2V877.4M1120.97 1100.7V1106.5M1125.35 872.2V877.4M1125.35 1100.7V1106.5M1129.73 872.2V877.4M1129.73 1100.7V1106.5M1134.11 872.2V877.4M1134.11 1100.7V1106.5M1138.49 872.2V877.4M1138.49 1100.7V1106.5M1142.87 872.2V877.4M1142.87 1100.7V1106.5M1147.25 872.2V877.4M1147.25 1100.7V1106.5M1151.63 872.2V877.4M1151.63 1100.7V1106.5M1156.01 872.2V877.4M1156.01 1100.7V1106.5M1160.4 872.2V877.4M1160.4 1100.7V1106.5M1164.78 872.2V877.4M1164.78 1100.7V1106.5M1169.16 872.2V877.4M1169.16 1100.7V1106.5M1173.54 872.2V877.4M1173.54 1100.7V1106.5M1177.92 872.2V877.4M1177.92 1100.7V1106.5"/>
<path stroke="#666" stroke-width="1.1" d="M236.04 865.9V877.4M236.04 1100.7V1112.2M341.18 865.9V877.4M341.18 1100.7V1112.2M446.32 865.9V877.4M446.32 1100.7V1112.2M551.46 865.9V877.4M551.46 1100.7V1112.2M656.6 865.9V877.4M656.6 1100.7V1112.2M761.74 865.9V877.4M761.74 1100.7V1112.2M866.88 865.9V877.4M866.88 1100.7V1112.2M972.02 865.9V877.4M972.02 1100.7V1112.2M1077.16 865.9V877.4M1077.16 1100.7V1112.2"/>
<g stroke="#333" stroke-width="1.1" fill="none">
<path d="M117.6 1165.4H1194M117.6 1374.6H1194"/>
<path stroke="#666" d="M129.6 1159.9V1380.3M1182.3 1159.9V1380.3"/>
</g>
<path stroke="#333" stroke-width="1.1" d="M234.87 1159.9V1165.4M234.87 1374.6V1380.3M340.14 1159.9V1165.4M340.14 1374.6V1380.3M445.41 1159.9V1165.4M445.41 1374.6V1380.3M550.68 1159.9V1165.4M550.68 1374.6V1380.3M655.95 1159.9V1165.4M655.95 1374.6V1380.3M761.22 1159.9V1165.4M761.22 1374.6V1380.3M866.49 1159.9V1165.4M866.49 1374.6V1380.3M971.76 1159.9V1165.4M971.76 1374.6V1380.3M1077.03 1159.9V1165.4M1077.03 1374.6V1380.3"/>
<path stroke="#222" stroke-width="1" stroke-dasharray="2.8 4.65" stroke-dashoffset="-0.35" fill="none" d="M236.04 13.4V236.7M341.18 13.4V236.7M446.32 13.4V236.7M551.46 13.4V236.7M656.6 13.4V236.7M761.74 13.4V236.7M866.88 13.4V236.7M972.02 13.4V236.7M1077.16 13.4V236.7M1182.3 13.4V236.7"/>
<path stroke="#222" stroke-width="1" stroke-dasharray="2.8 4.65" stroke-dashoffset="-0.35" fill="none" d="M236.04 301.5V524.9M341.18 301.5V524.9M446.32 301.5V524.9M551.46 301.5V524.9M656.6 301.5V524.9M761.74 301.5V524.9M866.88 301.5V524.9M972.02 301.5V524.9M1077.16 301.5V524.9M1182.3 301.5V524.9"/>
<path stroke="#222" stroke-width="1" stroke-dasharray="2.8 4.65" stroke-dashoffset="-0.35" fill="none" d="M236.04 589.1V812.6M341.18 589.1V812.6M446.32 589.1V812.6M551.46 589.1V812.6M656.6 589.1V812.6M761.74 589.1V812.6M866.88 589.1V812.6M972.02 589.1V812.6M1077.16 589.1V812.6M1182.3 589.1V812.6"/>
<path stroke="#222" stroke-width="1" stroke-dasharray="2.8 4.65" stroke-dashoffset="-0.35" fill="none" d="M236.04 877.4V1100.7M341.18 877.4V1100.7M446.32 877.4V1100.7M551.46 877.4V1100.7M656.6 877.4V1100.7M761.74 877.4V1100.7M866.88 877.4V1100.7M972.02 877.4V1100.7M1077.16 877.4V1100.7M1182.3 877.4V1100.7"/>
<path stroke="#111" stroke-width="1" stroke-dasharray="3 4.2" stroke-dashoffset="0" fill="none" d="M234.87 1165.4V1374.6M340.14 1165.4V1374.6M445.41 1165.4V1374.6M550.68 1165.4V1374.6M655.95 1165.4V1374.6M761.22 1165.4V1374.6M866.49 1165.4V1374.6M971.76 1165.4V1374.6M1077.03 1165.4V1374.6M1182.3 1165.4V1374.6"/>
<path stroke="#303030" stroke-width="1" stroke-dasharray="4 3.33" stroke-dashoffset="-0.7" fill="none" d="M130.9 125.5H1180.5"/>
<path stroke="#303030" stroke-width="1" stroke-dasharray="4 3.33" stroke-dashoffset="-0.7" fill="none" d="M130.9 385.5H1180.5"/>
<polyline points="132.6,63.7 137.3,72.5 141.7,84.9 146,86.8 151.1,82.4 159.2,90.7 167.9,97.3 172.3,95.1 181,105.3 185.4,99.5 189.8,99.5 194.2,102.4 198.5,99.5 202.9,117 207.3,104.6 211.7,106 216,113.3 220.4,113.3 224.8,108.2 229.2,114.1 233.5,106 236,110.3 243,118.3 250.1,127.9 258.9,138.5 271.2,148.2 287,157 301.1,166.6 309.9,170.1 320.4,171.5 329.2,170.5 341.5,171 352.1,170.5 360.9,173.7 369.7,186 374.9,183.3 378.5,175.4 387.3,161.4 396,142 401.3,139.9 411.9,141.7 422.4,137.1 434.7,136.4 440,137.1 446,131.7 453,118.5 461.8,107.9 478.5,96.5 486.5,79.8 498.8,64 509.3,55.2 516.3,50.8 526.9,43.7 537.5,41.5 546.2,42 551.5,45.5 560.3,50.8 570.9,52.5 583.2,49.9 593.7,55.2 606,60.4 627.1,62.2 639.5,57.8 650,49 656,50.2 663,50.2 671.8,45.5 680.6,46.4 689.4,47.3 698.2,44.6 707,40.8 715.8,38.5 726.3,38.5 735.1,37.2 745.7,36.7 755.4,43.7 765,42.3 780.9,40.2 791.4,49.5 802,56.6 810.8,53.4 821.3,52.5 830.1,55.2 840.7,58.7 854.7,62.2 866,64.8 876.6,74.5 883.6,80.7 890.6,84.7 901.2,79.8 911.7,63.1 925.8,55.2 936.3,64 943.4,66.6 952.2,66.6 961,72.8 971.5,80.7 982.1,81.9 997.9,75.9 1009.3,77.2 1013.7,72.8 1022.5,61.3 1026.9,64.3 1033.1,63.1 1040,65.2 1043.8,69.6 1050,68.4 1056.3,62.7 1060.1,62.5 1066.4,66.7 1071.4,67.1 1077.7,70 1084,73.4 1091.5,74.3 1096.5,78.4 1101.6,82.8 1104.7,83.1 1110.4,78 1117.9,70.3 1122.9,62.7 1127.9,59.6 1132.3,57.4 1139.2,59.6 1144.3,63.3 1149.3,70.3 1154.3,75.9 1159.3,81.6 1165.6,85.3 1170.7,86.3 1175.1,86 1179.7,83.4" fill="none" stroke="#00ff00" stroke-width="1" stroke-linejoin="round"/>
<polyline points="132.6,59.4 137.3,64.5 140.9,64.5 146,68.1 151.9,81.3 160.6,90 167.9,96.6 172.3,95.5 176.7,98.8 181,100.9 185.4,98.8 189.8,99.5 194.2,102.4 198.5,99.5 202.9,111.1 207.3,109.7 211.7,109.7 216,107.5 220.4,112.6 224.8,108.2 229.2,113.3 233.5,106 236,109.5 243,119.1 248.3,121.3 253.6,133.2 264.1,148.2 271.2,148.2 276.4,147.6 287,143.4 292.3,147.6 301.1,164 308.1,170.1 316.9,171.9 329.2,171 338,173.3 343.3,177.5 350.3,172.8 357.4,178.9 362.6,193 369.7,212 374.1,210.6 378.5,177.2 383.7,152.6 390.8,120 396,114.7 400.4,116.5 410.1,140.2 413.6,141.7 422.4,137.6 434.7,136.4 446,125.5 453,114.1 461.8,106.2 478.5,97.4 486.5,78 502.3,62.2 509.3,58.3 518.1,56.1 526.9,49.9 537.5,45.5 544.5,46.4 551.5,49.9 558.6,56.9 570.9,59.6 583.2,56.1 592,55.2 601.6,49 609.6,56.1 614.8,67.5 623.6,76.3 632.4,75.4 641.2,72.8 645.6,66.1 650,71 653.5,74.5 656,71 663,65.7 671.8,51.7 680.6,51.3 689.4,52.5 698.2,47.3 707,41.1 714.9,36.7 721.1,39.3 729,44.3 740.4,43.4 749.2,42.9 751.9,48.1 755,65.4 759.8,49 768.6,46.4 777.4,45.5 782.6,48.1 791.4,56.1 796.7,58.3 799.3,58.3 802.9,47.3 807.3,49.9 811.6,30.9 815.2,36.7 820.4,35.5 823.1,44.6 830.1,57.8 840.7,63.1 847.7,66.1 854.7,67.5 866,77.2 868.6,79.8 873,109.7 878.3,104.4 881.8,92.1 886.2,115 894.1,93 899.4,90.3 906.5,78 912.6,51.7 922.3,41.5 926.3,41.1 929.3,54.3 934.6,69.2 938.1,75.4 943.4,78 947.8,66.6 952.2,66.1 961,74.5 971.5,81.6 978.6,93 987.4,101.8 1000.5,89.5 1004.9,97.4 1009.3,93.9 1012,78 1017.2,41.1 1024.3,26.2 1030.4,26.2 1035.7,42.9 1041.9,68.4 1044.4,72.8 1048.8,70.3 1052.6,71.5 1057.6,69.2 1061.4,69.6 1065.8,76.8 1070.2,73.8 1075.2,78 1080.2,80.6 1085.2,81.3 1091.5,81.6 1096.5,101.7 1101.2,123 1105.3,113 1110.4,89.1 1115.4,79 1122.9,42.6 1127.9,30.7 1131.7,29 1136.7,36.3 1144.3,56.4 1149.3,72.8 1153.1,91.6 1157.5,116.1 1166.9,123.3 1175.1,123.3 1179.7,99.1" fill="none" stroke="#1e8c1e" stroke-width="1" stroke-linejoin="round"/>
<polyline points="132.6,53.2 137.3,60.8 144.6,66.7 151.9,79.8 159.2,90 167.9,104.6 172.3,106.8 176.7,113.3 181,117.4 185.4,111.6 189.8,111.9 194.2,114.1 198.5,114.8 202.9,127.2 207.3,121.8 211.7,122.1 216,125.7 220.4,126.5 224.8,124.7 229.2,127.6 233.5,122.1 236,124.4 243,135 253.6,154.3 264.1,170.1 276.4,183.3 287,189.5 299.3,200 309.9,202.7 320.4,203.6 329.2,202.7 341.5,205.7 352.1,204.1 357.4,205 362.6,213.2 369.7,223.8 374.1,222.6 378.5,210.6 387.3,193 396,166.6 401.3,164 410.1,165.7 422.4,157.8 431.2,155.7 436.5,157 446,149.3 451.3,141.4 458.3,125.5 468.9,112.3 478.5,105.3 488.2,85.1 498.8,68.4 505.8,57.8 516.3,49 526.9,38.5 537.5,33.2 544.5,34.1 551.5,40.2 560.3,49 572.6,52.5 583.2,48.1 595.5,54.3 606,59.6 627.1,61.7 639.5,56.9 650,43.7 656,44.6 663,45 671.8,39.7 680.6,41.1 689.4,42.5 698.2,39.3 707,34.9 715.8,30.9 726.3,30.9 735.1,30.9 749.2,30.9 755.4,37.6 765,36.2 777.4,33.5 782.6,35.8 791.4,47.8 798.5,52.5 807.3,53.4 812.5,48.1 821.3,47.3 830.1,55.2 840.7,59.6 854.7,64 866,71 871.3,76.3 880.1,88.6 890.6,97.4 901.2,85.1 911.7,64 918.8,56.1 925.8,51.3 934.6,58.7 943.4,62.7 947.8,61.3 953.9,64.8 961,71.9 971.5,80.7 983.8,86.8 1001.4,80.7 1009.3,82.4 1013.7,76.3 1026,51.7 1033.1,49.9 1039.2,54.3 1043.8,63.3 1048.8,68.4 1052.6,69.6 1057.6,66.5 1062,67.1 1066.4,70.9 1071.4,72.1 1074.5,72.5 1078.9,77.2 1084,79 1091.5,80.3 1096.5,86.6 1101.6,92.6 1104.7,93.5 1109.7,87.8 1114.7,81.6 1119.1,71.5 1123.5,62.7 1127.9,59.6 1132.3,58.1 1138,59.6 1144.3,63.3 1149.3,71.5 1157.5,86.6 1166.9,95.4 1175.1,95.4 1179.7,91.4" fill="none" stroke="#0000ff" stroke-width="1" stroke-linejoin="round"/>
<polyline points="132.6,47 137.3,51.4 140.9,50.3 146,55 150.4,65.2 154.8,72.5 160.6,79.8 167.9,88.5 172.3,90.7 176.7,95.1 181,98 185.4,95.1 189.8,95.1 194.2,97 198.5,97 202.9,105.3 208.8,102.4 214.6,103.9 220.4,105.3 224.8,104.6 229.2,106.8 233.5,102.8 236,104.2 243,113.9 250.1,124.4 257.1,135 264.1,142.9 271.2,149 280,154.3 287,157.5 294,162.2 301.1,166.3 309.9,168.4 318.7,168.7 329.2,168.7 336.2,169.8 343.3,170.5 352.1,169.3 359.1,171.6 364.4,179.8 369.7,185.6 374.1,184.6 378.5,173.7 387.3,159.6 395.2,140.2 401.3,136.4 409.2,137.3 418.9,133.2 427.7,129.7 434.7,130 440,127.1 446,122.9 451.3,115 458.3,104.4 463.6,99.1 470.6,93.9 477.7,90.3 486.5,74.5 495.2,64.8 505.8,52.5 516.3,47.3 526.9,39.3 537.5,35.5 544.5,36.7 551.5,42 558.6,47.3 569.1,50.8 576.1,49.9 584.1,47.3 593.7,49.9 607.8,54.3 614.8,54.3 627.1,56.1 634.2,54.3 641.2,50.8 650,42.5 656,43.2 663,43.7 671.8,40.8 680.6,42 689.4,42.9 698.2,40.2 707,36.7 715.8,33.7 726.3,34.1 735.1,34.9 749.2,34.9 755.4,39 765,38.5 777.4,36.7 782.6,39.3 791.4,48.1 798.5,51.3 807.3,51.7 812.5,46.4 821.3,45.5 830.1,51.3 840.7,54.3 854.7,57.8 866,64 869.5,66.1 876.6,74.5 883.6,80.7 890.6,84.7 897.7,79.4 903.8,74.5 911.7,59.6 918.8,53.4 925.8,48.5 934.6,53.4 943.4,56.1 948.7,54.8 953.1,56.9 961,64 971.5,69.8 982.1,74.5 990.9,73.1 1001.4,71 1009.3,71.9 1013.7,67.5 1026,45.5 1033.1,44.3 1039.2,48.1 1043.8,55.8 1047.5,59.6 1052.6,62.1 1057.6,61.2 1062,61.5 1067,64 1071.4,65 1075.2,65 1078.9,68.4 1084,69.6 1091.5,70.9 1096.5,75.3 1101.6,80.3 1104.7,81.2 1108.5,77.2 1114.7,71.5 1119.1,64.6 1123.5,57.7 1127.9,54.5 1131.7,53.7 1140.5,55.8 1144.3,57.1 1149.3,62.1 1153.1,67.7 1158.1,74.6 1162.5,78 1166.9,81.8 1174.4,81.6 1179.7,78.8" fill="none" stroke="#ff0000" stroke-width="1.4" stroke-linejoin="round"/>
<polyline points="132.6,307 137,326.4 141.4,329.9 151.1,343.1 163.4,327.8 172.2,342.2 181,347.5 186.3,350.1 190.7,358 194.2,370.3 198.6,354.5 202.1,355.4 210.9,366.8 216.2,380 220.6,385.3 225,403.8 229.4,425.7 233.8,403.8 237.6,400.2 242.6,412.6 247,421 254,419.2 263.7,421.7 270.7,427.5 286.5,437.2 290,436.3 295.3,431 299.7,434.5 304.1,445.1 311.2,449.5 316.4,456.5 321.7,462.7 326.1,471.5 330.5,475.5 334,475.5 339.5,486.3 347.4,490.5 352.7,486.3 357.1,487.5 361,492.3 365,481 369.4,479.2 373.8,472.2 378.2,456.7 382.6,446.2 387,444.8 391.4,437.4 395.8,425.4 404.6,420.1 409,421.9 416.9,412.8 422.2,404.8 427.5,389.9 435.4,374.1 444.2,379.7 448.6,374.4 453.8,377.6 461.7,376.7 470.5,389 474.9,385 479.3,386 488.1,393.4 492.5,392.5 501.3,386.7 505.7,388.5 510.1,383.7 514.5,383.7 518.9,389.9 523.3,392 527.7,391.7 536.5,411.9 540.9,415.9 544,428.4 548.9,450.3 552.8,452.5 558.1,445.4 563.3,446 571.3,450.3 575.3,450.3 584.5,437.2 588,438 592.9,433.6 597.6,422.2 602,415.2 614.3,408.1 623.1,412.5 631.9,411.7 636.3,413.8 645.1,410.8 649.5,421.3 654.8,424.3 663.6,424.3 667.1,420.8 671.5,411.7 677.7,411.3 684.7,413.4 693.5,424 698.8,422.2 706.7,416.6 715.5,414.6 719.9,415.2 727.8,423.1 734,431.9 741,438.4 746.3,431.9 750.1,430.7 754.9,434.3 759.7,418.5 763.2,421.1 768.5,428.1 772.5,426.7 776.9,407.9 781.7,416.2 786.1,422.9 790.5,435.2 794.8,451.4 798.9,454.2 803.1,442.6 807.7,451 811.9,431.3 816.5,428.5 821.2,446.1 825.3,452.8 838.3,430.8 842.9,439.6 848.5,456.3 855.5,479.1 859.9,509 865.2,502.4 873.1,488.3 877.5,481.3 881.9,480 886.3,483.5 895.1,466 899.5,469.5 904.8,463.3 909.2,453.6 917.1,440.8 925.9,453.6 930.3,451 934.7,439.6 939.1,436.9 943.5,432.5 947.9,416.2 960.9,438.2 965.8,432.3 971.7,428.4 974.6,429 978.5,437.2 982.5,427 987,421.9 996.2,434.9 1001.1,430.4 1005,431.4 1009.9,435.3 1017.7,434.3 1022.2,418.6 1026.5,419 1031.4,425.5 1035.4,428.4 1044.2,446.1 1053,446.1 1056.9,464.7 1061.8,471.5 1065.7,472.1 1070.6,468.2 1074.6,472.9 1079.1,492.5 1083.4,479.4 1087.7,476 1096.1,480 1101.4,477 1105.9,481.9 1109.8,480.7 1114.3,462.3 1118.7,456.8 1123.5,448 1127.5,448 1131.4,459.8 1135.9,469.6 1145.1,452.9 1150,449.4 1158.8,454.9 1166.7,457.8 1171.2,450.6 1175.5,454.5 1179.4,455.3" fill="none" stroke="#0000ff" stroke-width="1" stroke-linejoin="round"/>
<polyline points="132.6,357.2 137,372.1 141.4,374.7 150.2,385.8 154.6,383.5 163.4,373.5 172.2,385.3 177.5,386.2 181,388.8 186.3,390.6 190.7,396.7 194.2,406.4 198.6,394.1 202.1,395 207.4,400.2 211.8,403.8 216.2,413.4 220.6,417.8 225,433.7 229.4,449.5 233.8,431 238.2,429.3 242.6,438.9 247,445.1 253.1,443.9 263.7,445.6 270.7,449.8 286.5,457.4 290,456.5 295.3,453 299.7,455.6 304.1,463.6 311.2,466.7 316.4,472.4 321.7,477.6 326.1,483.8 330.5,486.8 334,486.4 339.5,495.1 347.4,498.6 352.7,495.4 357.1,496.3 361,500.2 365,491 369.4,489.3 373.8,483.1 378.2,471.7 382.6,464.1 387,462.9 391.4,457.6 395.8,447.9 404.6,444.4 409,445.8 416.9,438.3 422.2,432.1 427.5,420.7 435.4,408.9 444.2,412.8 448.6,409.2 453.8,411.9 461.7,411 470.5,420.7 474.9,417.2 479.3,418 488.1,423.7 492.5,422.4 501.3,418.4 505.7,419.8 510.1,416.6 514.5,416.6 518.9,420.7 523.3,422.4 527.7,421.6 536.5,438.3 540.9,440.9 544,450.3 548.9,467.1 552.8,469.3 558.1,463.5 563.3,464.1 571.3,467.6 575.3,467.4 584.5,457.4 588,458.3 592.9,454.7 597.6,446 602,440.7 614.3,434.9 623.1,438.4 631.9,437.5 636.3,439.3 645.1,436.6 649.5,445.4 654.8,447.2 663.6,447.2 667.1,444.2 672.4,437.5 677.7,437.2 684.7,439.8 693.5,447.2 698.8,445.1 707.6,441.2 714.6,440.1 719.9,440.7 726.9,446 734,453.9 741,458.3 746.3,453.9 750.1,452.5 754.9,455.4 759.7,442.6 763.2,444.8 768.5,450.7 772.5,449.2 776.9,435.2 781.7,441.3 786.1,446.1 790.5,456.3 794.8,468.6 798.9,470.7 803.1,461.2 807.7,468.6 811.9,452.4 816.5,450.7 821.2,464.2 825.3,469.5 838.3,451.9 842.9,458.9 848.5,473.9 856.4,496.7 859.9,512.2 865.2,507.6 874,495.8 877.5,491.1 881.9,490 886.3,493.2 895.1,479.5 899.5,481.8 904.8,477 909.2,470.3 917.1,460.1 925.9,470 930.3,467.7 934.7,458.9 939.1,457.2 943.5,453.6 947.9,441.3 960.9,458.4 965.8,453.9 971.7,450.6 974.6,450.9 978.5,457.8 982.5,449.4 987,445.5 996.2,455.8 1001.1,451.9 1005,452.9 1009.9,455.8 1017.7,454.9 1022.2,442.7 1026.5,443.5 1031.4,449 1035.4,451.3 1044.2,463.7 1053,463.7 1056.9,478.4 1061.8,483.9 1065.7,484.7 1070.6,480.7 1074.6,484.3 1079.1,500.3 1083.4,490.5 1087.7,487.2 1097.1,490.5 1101.4,487.8 1105.9,492.1 1109.8,491.1 1114.3,476.4 1118.7,472.9 1123.5,465.6 1127.5,465.6 1131.4,475.4 1135.9,482.7 1145.1,469.6 1150,467 1158.8,470.9 1166.7,473.5 1171.2,467.6 1175.5,470.5 1179.4,471.5" fill="none" stroke="#ff0000" stroke-width="1.4" stroke-linejoin="round"/>
<polyline points="132.7,651.9 141.3,654.4 152.6,656 175.2,658.3 197.8,658.9 215.9,658.3 227.2,655.3 232.9,654.4 238.5,659.9 243.1,660.5 247.1,657.6 252.1,664.4 264.6,667.8 269.1,663.5 288.3,666.2 304.1,669.6 317.7,668.4 331.3,668 338,668.9 343.7,673.4 351.6,669.6 356.1,674.1 362.9,688.8 369.7,699 374.2,699 378.8,677.5 383.3,683.1 386.7,694.4 390.1,689.9 395.7,670.7 401.8,668.9 409,663.5 422.1,662.3 426.7,665.1 435.7,663.9 440.2,660.1 456.1,656 467.4,658.3 474.2,657.8 483.2,656 488.8,652.6 508.1,649.9 521.6,648.1 535.2,646.5 551,647 557.8,649.9 562.3,649.9 569.1,648.5 587.2,648.5 594,652.6 600.8,654.9 609.8,653.7 614.4,663.2 618.9,663.2 625.7,664.4 640.4,664.6 645.6,659.9 650.1,670.3 654.6,673 659.1,664.4 663.4,661.7 667.9,653.7 673.6,649.2 687.1,648.1 705.2,647 727.8,646.3 750.5,646.3 755,667.3 759.5,648.5 770.8,647 782.1,647.6 788.9,649.2 795.7,649.9 803.6,652.6 807,650.8 811.5,654.9 816,650.8 820.6,652.2 827.3,651 840.9,651.5 847.7,653.1 852.2,652.2 859,652.6 865.8,654.9 869.2,658.3 873,684.3 877.5,677 882.1,658.3 886.6,680.9 895.2,660.5 903.1,659.4 908.3,657.1 912.8,669.6 917.8,652.6 921.9,652.6 930,665.6 935.1,664.9 943,665.4 947.5,653 952,651.9 958.8,654.8 965.5,655.9 970.1,658.2 973.4,658.2 979.1,662 987.6,676.2 992.6,673.3 1000.5,665.4 1009.5,680.7 1017.4,685.2 1021.9,667.2 1026.8,657.5 1032.7,655.9 1035.4,657 1039.9,662.7 1043.3,660.4 1048.5,653.7 1055.7,651.9 1061.3,651.4 1066.5,657.5 1070.3,652.5 1074.8,657.5 1078.2,656.6 1085,657 1091.7,656.6 1101.2,691.3 1105.2,681.8 1110.2,657.7 1114.7,662.7 1122.8,689.7 1127.3,662 1131.8,671 1136.8,664.2 1140.8,653.7 1144.6,654.3 1149.1,658.2 1157,691.3 1163.8,692.4 1175.1,692.6 1180,668.3" fill="none" stroke="#0000ff" stroke-width="1.4" stroke-linejoin="round"/>
<polyline points="132.7,812.6 163.4,812.5 167.8,808.9 176.6,802.8 181,802.8 185.4,806 189.8,806.7 194.2,809.5 198.6,811.6 202.5,812.5 268.9,812.5 272.5,808.9 276.9,797.5 281.3,785.2 285.6,779.1 290,780.8 294.4,788.7 298.8,799.3 303.2,805.4 307.6,812.5 373.5,812.6 377.5,799.4 381.5,772.6 386.9,719 390.9,709.6 396.3,739.1 401.1,756.5 404.9,776.6 409.1,807.5 412.4,812.6 479.4,812.6 483.4,805.3 492.2,807.5 499.5,804.8 506.2,807.5 518.2,812.6 584.4,812.6 589.3,808.8 596,783.3 601.3,776.6 608,788.7 616,802.1 622.8,812.6 689.7,812.6 711.6,796.7 715.7,798.6 728.3,812.6 794.7,812.6 798.8,807.5 803.3,780.1 807.6,791.4 812.2,747.2 816.7,769.9 821,767.3 825.6,796.7 829.6,807.5 833.6,812.6 899.3,812.6 903.3,799.4 907.8,793.5 912.7,749 917.2,774.8 921.5,771.3 926.1,757.9 930.9,788.7 934.6,804.8 938.9,812.6 1004.5,812.6 1008.8,792.7 1013.4,752.5 1017.4,697.6 1024.1,721.7 1030.8,745.8 1037.5,772.6 1043.7,812.6 1109.9,812.6 1114.4,799.4 1118.7,751.2 1122.5,692.2 1127.3,723 1131.3,705.6 1135.9,732.4 1140.7,778 1144.7,796.7 1148.7,812.6 1180,812.6" fill="none" stroke="#ff0000" stroke-width="1.5" stroke-linejoin="round"/>
<polyline points="132.7,812.6 163.4,812.6 167.74,773.71 172.09,701.04 176.43,635.53 180.78,609.54 185.12,608.31 189.47,634.1 193.81,696.94 198.16,766.54 202.5,812.6 268.9,812.6 273.2,773.48 277.5,700.38 281.8,634.5 286.1,608.35 290.4,607.11 294.7,633.06 299,696.27 303.3,766.27 307.6,812.6 373.5,812.6 377.88,773.25 382.26,699.73 386.63,633.46 391.01,607.16 395.39,605.91 399.77,632.01 404.14,695.59 408.52,766 412.9,812.6 479.4,812.6 483.71,772.93 488.02,698.8 492.33,631.99 496.64,605.47 500.96,604.22 505.27,630.53 509.58,694.63 513.89,765.62 518.2,812.6 584.4,812.6 588.76,772.59 593.11,697.82 597.47,630.43 601.82,603.68 606.18,602.42 610.53,628.96 614.89,693.61 619.24,765.22 623.6,812.6 689.7,812.6 693.99,772.23 698.28,696.79 702.57,628.79 706.86,601.8 711.14,600.53 715.43,627.3 719.72,692.54 724.01,764.79 728.3,812.6 794.7,812.6 799.02,771.75 803.34,695.42 807.67,626.62 811.99,599.32 816.31,598.03 820.63,625.12 824.96,691.12 829.28,764.23 833.6,812.6 899.3,812.6 903.7,771.45 908.1,694.55 912.5,625.24 916.9,597.73 921.3,596.43 925.7,623.72 930.1,690.22 934.5,763.87 938.9,812.6 1004.5,812.6 1008.86,771.07 1013.21,693.46 1017.57,623.51 1021.92,595.75 1026.28,594.44 1030.63,621.98 1034.99,689.09 1039.34,763.41 1043.7,812.6 1109.9,812.6 1114.21,770.55 1118.52,691.99 1122.83,621.18 1127.14,593.07 1131.46,591.74 1135.77,619.63 1140.08,687.57 1144.39,762.81 1148.7,812.6 1180,812.6" fill="none" stroke="#1e8c1e" stroke-width="1" stroke-linejoin="round"/>
<polyline points="133,1100.4 143,1100.4 148.8,1098.7 158.2,1095.4 165.2,1089.6 167.9,1087 172.2,1081.4 181,1064.6 189.8,1053.2 196.8,1040 203,1028.6 208.3,1022.4 216.2,1007.5 223.2,995.2 229.4,984.6 235.5,980.2 244.3,975 261.9,968.8 279.5,965.3 305.9,962.6 340,961.4 384,960.7 438,960 460,960.3 481.4,960.3 497.5,957.6 506.9,954.1 516.3,946.1 524.3,940.7 529.7,939.4 548.4,939.4 565.9,938.6 575.3,934.3 580.6,930.3 586,928.9 620.8,928.9 674.4,928.9 695.9,928.7 709.3,926.8 720,924.7 730.7,920.1 741.4,913.9 746.8,912.6 757.5,912.1 772,910.6 781.2,904.6 789.5,901.8 794.6,898.5 804.2,897.7 808.8,896.8 819,896.3 830,893.9 837.4,893.1 852.1,892.6 866.9,892.2 907.4,891.1 944.3,891.1 951.6,890.4 962.7,889.3 980,888.9 998.6,887.8 1044.4,887.8 1049.6,886.8 1058.4,884.7 1072.5,883.3 1104.2,882.6 1114.7,881.1 1139.3,881.1 1179.8,881.1" fill="none" stroke="#ff0000" stroke-width="1.3" stroke-linejoin="round"/>
<polyline points="133,1100.4 141.4,1100.4 146.1,1096.7 150.4,1087.7 153.8,1096 154.8,1098.5 159.8,1099.3 163.2,1100.3 167.8,1099.3 172.2,1097.2 176.6,1095.4 181.9,1092.3 185.9,1093.3 189.8,1091 194.2,1083.1 198.6,1088.4 203,1068.2 207.4,1074.3 211.8,1067.6 216.2,1075.7 219.7,1075.2 225,1066.9 229.4,1076.1 233.8,1096.3 238.2,1100.4 479.3,1100.4 487.5,1092 493.1,1096.1 497.2,1094.4 504.7,1085.6 509.7,1073.2 514.6,1064.9 518.5,1061.3 523.5,1066.8 527.6,1081.5 531.8,1096.1 535.9,1100.4 545.6,1099.1 551.1,1100.4 560.8,1099.7 566.3,1095.3 571,1079.5 575.4,1080.1 580.1,1062.7 584.3,1087 588.4,1100.4 671.1,1100.4 678.1,1099.6 685.2,1099.8 695.7,1100.4 702.1,1095.6 708.6,1093.9 719.2,1090.9 728.6,1077.1 732.6,1076.4 737.2,1078 741.9,1071.7 750.8,1100.4 756.7,1098.2 764.9,1095.1 772,1097 776.6,1074 781.3,1063.5 786,1089.2 790.2,1085.7 794.2,1064.6 798.9,1098.2 802.9,1098.6 807.1,1090.4 812.3,1099.8 818.9,1096.3 824.7,1089.2 829.4,1090.4 837.6,1097.5 849.3,1099.3 856.4,1099.8 860.4,1097.2 868.1,1099.8 877.5,1100.4 882.2,1099.6 886.9,1099.8 893.9,1097.5 901,1098.2 906.8,1099.8 945.2,1100.4 951.7,1096.4 960.4,1096.4 966.3,1098 972.1,1100.4 978,1098.2 985,1098.9 999.1,1099.4 1003.8,1100.4 1041.3,1100.4 1048.4,1097.5 1053.1,1084.2 1056.6,1083.5 1062.4,1095.6 1066,1098.7 1070.6,1095.6 1076.5,1100.4 1088.2,1099.4 1095.3,1100.4 1107,1098.7 1114,1096.4 1118.7,1100.4 1180,1100.4" fill="none" stroke="#1e8c1e" stroke-width="1" stroke-linejoin="round"/>
<polyline points="133,1100.4 143,1100.4 148.1,1098.1 152.5,1092.4 156.5,1086 159,1082.2 163.4,1067.3 172.2,1051.5 176.6,1021.6 181,1016.3 185.9,1048.8 189.8,1052.3 194.2,1037.4 198.6,1028.2 203,1053.2 207.4,1079.6 211.8,1065.5 216.2,1035.6 220.6,1051.1 225.9,1051.5 229.4,1054.1 234.6,1070.8 239,1077 243.1,1079 247.1,1078 256.1,1084.1 260.2,1085.1 272.2,1092.1 280.3,1094.5 290.3,1095.7 300.4,1097.3 304.4,1098.1 310.4,1096.7 316.4,1097.3 322.5,1099.1 330.5,1098.1 338.5,1099.1 344.6,1100.2 356.6,1100.4 437,1100.4 440,1098.5 445.1,1098.5 449.1,1100.4 1085.9,1100.4 1089.4,1099.4 1095.3,1099.9 1104.7,1099.4 1109.3,1097.5 1114,1092.4 1118.7,1100.4 1180,1100.4" fill="none" stroke="#0000ff" stroke-width="1" stroke-linejoin="round"/>
<polyline points="129.9,1374.6 258.2,1374.6 262.3,1174.3 266.7,1176.6 271.1,1179.3 275.5,1182.3 279.9,1185.5 284.3,1188.7 288.7,1192.1 293.4,1374.6 1180.2,1374.6" fill="none" stroke="#ff0000" stroke-width="1.4" stroke-linejoin="round"/>
<path stroke="#666" stroke-width="1.1" fill="none" d="M118.9 236.7H130.9M1182.3 236.7H1194M118.9 214.37H130.9M1182.3 214.37H1194M118.9 192.04H130.9M1182.3 192.04H1194M118.9 169.71H130.9M1182.3 169.71H1194M118.9 147.38H130.9M1182.3 147.38H1194M118.9 125.05H130.9M1182.3 125.05H1194M118.9 102.72H130.9M1182.3 102.72H1194M118.9 80.39H130.9M1182.3 80.39H1194M118.9 58.06H130.9M1182.3 58.06H1194M118.9 35.73H130.9M1182.3 35.73H1194M118.9 13.4H130.9M1182.3 13.4H1194"/>
<text transform="matrix(1.0344 0 0 1 77.71 42.63)" x="0" y="0" font-size="18.6" fill="#000" textLength="30.51" lengthAdjust="spacing" stroke="#000" stroke-width="0.15">8.0</text>
<text transform="matrix(1.0219 0 0 1 78.42 87.29)" x="0" y="0" font-size="18.6" fill="#000" textLength="30.19" lengthAdjust="spacing" stroke="#000" stroke-width="0.15">4.0</text>
<text transform="matrix(1.0341 0 0 1 77.73 131.95)" x="0" y="0" font-size="18.6" fill="#000" textLength="30.5" lengthAdjust="spacing" stroke="#000" stroke-width="0.15">0.0</text>
<text transform="matrix(1.0217 0 0 1 62.19 176.61)" x="0" y="0" font-size="18.6" fill="#000" textLength="46.08" lengthAdjust="spacing" stroke="#000" stroke-width="0.15">−4.0</text>
<text transform="matrix(1.0217 0 0 1 62.19 221.27)" x="0" y="0" font-size="18.6" fill="#000" textLength="46.08" lengthAdjust="spacing" stroke="#000" stroke-width="0.15">−8.0</text>
<path stroke="#666" stroke-width="1.1" fill="none" d="M118.9 524.9H130.9M1182.3 524.9H1194M118.9 496.97H130.9M1182.3 496.97H1194M118.9 469.05H130.9M1182.3 469.05H1194M118.9 441.12H130.9M1182.3 441.12H1194M118.9 413.2H130.9M1182.3 413.2H1194M118.9 385.27H130.9M1182.3 385.27H1194M118.9 357.35H130.9M1182.3 357.35H1194M118.9 329.43H130.9M1182.3 329.43H1194M118.9 301.5H130.9M1182.3 301.5H1194"/>
<text transform="matrix(1.0327 0 0 1 77.72 308.4)" x="0" y="0" font-size="18.6" fill="#000" textLength="30.47" lengthAdjust="spacing" stroke="#000" stroke-width="0.15">8.0</text>
<text transform="matrix(1.0327 0 0 1 77.72 364.25)" x="0" y="0" font-size="18.6" fill="#000" textLength="30.47" lengthAdjust="spacing" stroke="#000" stroke-width="0.15">6.0</text>
<text transform="matrix(1.0201 0 0 1 78.42 420.1)" x="0" y="0" font-size="18.6" fill="#000" textLength="30.14" lengthAdjust="spacing" stroke="#000" stroke-width="0.15">4.0</text>
<text transform="matrix(1.0330 0 0 1 77.7 475.95)" x="0" y="0" font-size="18.6" fill="#000" textLength="30.47" lengthAdjust="spacing" stroke="#000" stroke-width="0.15">2.0</text>
<text transform="matrix(1.0323 0 0 1 77.73 531.8)" x="0" y="0" font-size="18.6" fill="#000" textLength="30.46" lengthAdjust="spacing" stroke="#000" stroke-width="0.15">0.0</text>
<path stroke="#666" stroke-width="1.1" fill="none" d="M118.9 812.6H130.9M1182.3 812.6H1194M118.9 787.81H130.9M1182.3 787.81H1194M118.9 763.02H130.9M1182.3 763.02H1194M118.9 738.23H130.9M1182.3 738.23H1194M118.9 713.44H130.9M1182.3 713.44H1194M118.9 688.65H130.9M1182.3 688.65H1194M118.9 663.86H130.9M1182.3 663.86H1194M118.9 639.08H130.9M1182.3 639.08H1194M118.9 614.29H130.9M1182.3 614.29H1194M118.9 589.5H130.9M1182.3 589.5H1194"/>
<text transform="matrix(1.0228 0 0 1 66.31 621.19)" x="0" y="0" font-size="18.6" fill="#000" textLength="42.3" lengthAdjust="spacing" stroke="#000" stroke-width="0.15">400.</text>
<text transform="matrix(1.0340 0 0 1 65.44 670.76)" x="0" y="0" font-size="18.6" fill="#000" textLength="42.72" lengthAdjust="spacing" stroke="#000" stroke-width="0.15">300.</text>
<text transform="matrix(1.0319 0 0 1 65.6 720.34)" x="0" y="0" font-size="18.6" fill="#000" textLength="42.64" lengthAdjust="spacing" stroke="#000" stroke-width="0.15">200.</text>
<text transform="matrix(1.0457 0 0 1 64.53 769.92)" x="0" y="0" font-size="18.6" fill="#000" textLength="43.13" lengthAdjust="spacing" stroke="#000" stroke-width="0.15">100.</text>
<text transform="matrix(1.0438 0 0 1 90.42 819.5)" x="0" y="0" font-size="18.6" fill="#000" textLength="18.39" lengthAdjust="spacing" stroke="#000" stroke-width="0.15">0.</text>
<path stroke="#666" stroke-width="1.1" fill="none" d="M118.9 1100.7H130.9M1182.3 1100.7H1194M118.9 1082.09H130.9M1182.3 1082.09H1194M118.9 1063.48H130.9M1182.3 1063.48H1194M118.9 1044.88H130.9M1182.3 1044.88H1194M118.9 1026.27H130.9M1182.3 1026.27H1194M118.9 1007.66H130.9M1182.3 1007.66H1194M118.9 989.05H130.9M1182.3 989.05H1194M118.9 970.44H130.9M1182.3 970.44H1194M118.9 951.83H130.9M1182.3 951.83H1194M118.9 933.23H130.9M1182.3 933.23H1194M118.9 914.62H130.9M1182.3 914.62H1194M118.9 896.01H130.9M1182.3 896.01H1194M118.9 877.4H130.9M1182.3 877.4H1194"/>
<text transform="matrix(1.0252 0 0 1 65.61 884.3)" x="0" y="0" font-size="18.6" fill="#000" textLength="42.39" lengthAdjust="spacing" stroke="#000" stroke-width="0.15">2.40</text>
<text transform="matrix(1.0252 0 0 1 65.61 921.52)" x="0" y="0" font-size="18.6" fill="#000" textLength="42.39" lengthAdjust="spacing" stroke="#000" stroke-width="0.15">2.00</text>
<text transform="matrix(1.0387 0 0 1 64.54 958.73)" x="0" y="0" font-size="18.6" fill="#000" textLength="42.88" lengthAdjust="spacing" stroke="#000" stroke-width="0.15">1.60</text>
<text transform="matrix(1.0387 0 0 1 64.54 995.95)" x="0" y="0" font-size="18.6" fill="#000" textLength="42.88" lengthAdjust="spacing" stroke="#000" stroke-width="0.15">1.20</text>
<text transform="matrix(1.0247 0 0 1 65.64 1033.17)" x="0" y="0" font-size="18.6" fill="#000" textLength="42.38" lengthAdjust="spacing" stroke="#000" stroke-width="0.15">0.80</text>
<text transform="matrix(1.0247 0 0 1 65.64 1070.38)" x="0" y="0" font-size="18.6" fill="#000" textLength="42.38" lengthAdjust="spacing" stroke="#000" stroke-width="0.15">0.40</text>
<text transform="matrix(1.0247 0 0 1 65.64 1107.6)" x="0" y="0" font-size="18.6" fill="#000" textLength="42.38" lengthAdjust="spacing" stroke="#000" stroke-width="0.15">0.00</text>
<path stroke="#333" stroke-width="1.1" fill="none" d="M117.6 1374.6H129.6M1182.3 1374.6H1194M117.6 1359.66H129.6M1182.3 1359.66H1194M117.6 1344.71H129.6M1182.3 1344.71H1194M117.6 1329.77H129.6M1182.3 1329.77H1194M117.6 1314.83H129.6M1182.3 1314.83H1194M117.6 1299.89H129.6M1182.3 1299.89H1194M117.6 1284.94H129.6M1182.3 1284.94H1194M117.6 1270H129.6M1182.3 1270H1194M117.6 1255.06H129.6M1182.3 1255.06H1194M117.6 1240.11H129.6M1182.3 1240.11H1194M117.6 1225.17H129.6M1182.3 1225.17H1194M117.6 1210.23H129.6M1182.3 1210.23H1194M117.6 1195.29H129.6M1182.3 1195.29H1194M117.6 1180.34H129.6M1182.3 1180.34H1194M117.6 1165.4H129.6M1182.3 1165.4H1194"/>
<text transform="matrix(1.0222 0 0 1 64.45 1172.3)" x="0" y="0" font-size="18.6" fill="#000" textLength="42.28" lengthAdjust="spacing" stroke="#000" stroke-width="0.15">0.70</text>
<text transform="matrix(1.0222 0 0 1 64.45 1202.19)" x="0" y="0" font-size="18.6" fill="#000" textLength="42.28" lengthAdjust="spacing" stroke="#000" stroke-width="0.15">0.60</text>
<text transform="matrix(1.0222 0 0 1 64.45 1232.07)" x="0" y="0" font-size="18.6" fill="#000" textLength="42.28" lengthAdjust="spacing" stroke="#000" stroke-width="0.15">0.50</text>
<text transform="matrix(1.0222 0 0 1 64.45 1261.96)" x="0" y="0" font-size="18.6" fill="#000" textLength="42.28" lengthAdjust="spacing" stroke="#000" stroke-width="0.15">0.40</text>
<text transform="matrix(1.0222 0 0 1 64.45 1291.84)" x="0" y="0" font-size="18.6" fill="#000" textLength="42.28" lengthAdjust="spacing" stroke="#000" stroke-width="0.15">0.30</text>
<text transform="matrix(1.0222 0 0 1 64.45 1321.73)" x="0" y="0" font-size="18.6" fill="#000" textLength="42.28" lengthAdjust="spacing" stroke="#000" stroke-width="0.15">0.20</text>
<text transform="matrix(1.0222 0 0 1 64.45 1351.61)" x="0" y="0" font-size="18.6" fill="#000" textLength="42.28" lengthAdjust="spacing" stroke="#000" stroke-width="0.15">0.10</text>
<text transform="matrix(1.0222 0 0 1 64.45 1381.5)" x="0" y="0" font-size="18.6" fill="#000" textLength="42.28" lengthAdjust="spacing" stroke="#000" stroke-width="0.15">0.00</text>
<text x="122.29" y="262" font-size="14.6" fill="#000" textLength="17.21" lengthAdjust="spacingAndGlyphs" style='font-family:"Liberation Serif", serif' stroke="#000" stroke-width="0.45">00</text>
<text x="148.59" y="262" font-size="14.6" fill="#000" textLength="17.06" lengthAdjust="spacingAndGlyphs" style='font-family:"Liberation Serif", serif' stroke="#000" stroke-width="0.45">06</text>
<text x="173.89" y="262" font-size="14.6" fill="#000" textLength="18.55" lengthAdjust="spacingAndGlyphs" style='font-family:"Liberation Serif", serif' stroke="#000" stroke-width="0.45">12</text>
<text x="200.21" y="262" font-size="14.6" fill="#000" textLength="18.19" lengthAdjust="spacingAndGlyphs" style='font-family:"Liberation Serif", serif' stroke="#000" stroke-width="0.45">18</text>
<text x="227.43" y="262" font-size="14.6" fill="#000" textLength="17.21" lengthAdjust="spacingAndGlyphs" style='font-family:"Liberation Serif", serif' stroke="#000" stroke-width="0.45">00</text>
<text x="253.73" y="262" font-size="14.6" fill="#000" textLength="17.06" lengthAdjust="spacingAndGlyphs" style='font-family:"Liberation Serif", serif' stroke="#000" stroke-width="0.45">06</text>
<text x="279.03" y="262" font-size="14.6" fill="#000" textLength="18.55" lengthAdjust="spacingAndGlyphs" style='font-family:"Liberation Serif", serif' stroke="#000" stroke-width="0.45">12</text>
<text x="305.35" y="262" font-size="14.6" fill="#000" textLength="18.19" lengthAdjust="spacingAndGlyphs" style='font-family:"Liberation Serif", serif' stroke="#000" stroke-width="0.45">18</text>
<text x="332.57" y="262" font-size="14.6" fill="#000" textLength="17.21" lengthAdjust="spacingAndGlyphs" style='font-family:"Liberation Serif", serif' stroke="#000" stroke-width="0.45">00</text>
<text x="358.87" y="262" font-size="14.6" fill="#000" textLength="17.06" lengthAdjust="spacingAndGlyphs" style='font-family:"Liberation Serif", serif' stroke="#000" stroke-width="0.45">06</text>
<text x="384.17" y="262" font-size="14.6" fill="#000" textLength="18.55" lengthAdjust="spacingAndGlyphs" style='font-family:"Liberation Serif", serif' stroke="#000" stroke-width="0.45">12</text>
<text x="410.49" y="262" font-size="14.6" fill="#000" textLength="18.19" lengthAdjust="spacingAndGlyphs" style='font-family:"Liberation Serif", serif' stroke="#000" stroke-width="0.45">18</text>
<text x="437.71" y="262" font-size="14.6" fill="#000" textLength="17.21" lengthAdjust="spacingAndGlyphs" style='font-family:"Liberation Serif", serif' stroke="#000" stroke-width="0.45">00</text>
<text x="464.01" y="262" font-size="14.6" fill="#000" textLength="17.06" lengthAdjust="spacingAndGlyphs" style='font-family:"Liberation Serif", serif' stroke="#000" stroke-width="0.45">06</text>
<text x="489.31" y="262" font-size="14.6" fill="#000" textLength="18.55" lengthAdjust="spacingAndGlyphs" style='font-family:"Liberation Serif", serif' stroke="#000" stroke-width="0.45">12</text>
<text x="515.63" y="262" font-size="14.6" fill="#000" textLength="18.19" lengthAdjust="spacingAndGlyphs" style='font-family:"Liberation Serif", serif' stroke="#000" stroke-width="0.45">18</text>
<text x="542.85" y="262" font-size="14.6" fill="#000" textLength="17.21" lengthAdjust="spacingAndGlyphs" style='font-family:"Liberation Serif", serif' stroke="#000" stroke-width="0.45">00</text>
<text x="569.15" y="262" font-size="14.6" fill="#000" textLength="17.06" lengthAdjust="spacingAndGlyphs" style='font-family:"Liberation Serif", serif' stroke="#000" stroke-width="0.45">06</text>
<text x="594.45" y="262" font-size="14.6" fill="#000" textLength="18.55" lengthAdjust="spacingAndGlyphs" style='font-family:"Liberation Serif", serif' stroke="#000" stroke-width="0.45">12</text>
<text x="620.77" y="262" font-size="14.6" fill="#000" textLength="18.19" lengthAdjust="spacingAndGlyphs" style='font-family:"Liberation Serif", serif' stroke="#000" stroke-width="0.45">18</text>
<text x="647.99" y="262" font-size="14.6" fill="#000" textLength="17.21" lengthAdjust="spacingAndGlyphs" style='font-family:"Liberation Serif", serif' stroke="#000" stroke-width="0.45">00</text>
<text x="674.29" y="262" font-size="14.6" fill="#000" textLength="17.06" lengthAdjust="spacingAndGlyphs" style='font-family:"Liberation Serif", serif' stroke="#000" stroke-width="0.45">06</text>
<text x="699.59" y="262" font-size="14.6" fill="#000" textLength="18.55" lengthAdjust="spacingAndGlyphs" style='font-family:"Liberation Serif", serif' stroke="#000" stroke-width="0.45">12</text>
<text x="725.91" y="262" font-size="14.6" fill="#000" textLength="18.19" lengthAdjust="spacingAndGlyphs" style='font-family:"Liberation Serif", serif' stroke="#000" stroke-width="0.45">18</text>
<text x="753.13" y="262" font-size="14.6" fill="#000" textLength="17.21" lengthAdjust="spacingAndGlyphs" style='font-family:"Liberation Serif", serif' stroke="#000" stroke-width="0.45">00</text>
<text x="779.43" y="262" font-size="14.6" fill="#000" textLength="17.06" lengthAdjust="spacingAndGlyphs" style='font-family:"Liberation Serif", serif' stroke="#000" stroke-width="0.45">06</text>
<text x="804.73" y="262" font-size="14.6" fill="#000" textLength="18.55" lengthAdjust="spacingAndGlyphs" style='font-family:"Liberation Serif", serif' stroke="#000" stroke-width="0.45">12</text>
<text x="831.05" y="262" font-size="14.6" fill="#000" textLength="18.19" lengthAdjust="spacingAndGlyphs" style='font-family:"Liberation Serif", serif' stroke="#000" stroke-width="0.45">18</text>
<text x="858.27" y="262" font-size="14.6" fill="#000" textLength="17.21" lengthAdjust="spacingAndGlyphs" style='font-family:"Liberation Serif", serif' stroke="#000" stroke-width="0.45">00</text>
<text x="884.57" y="262" font-size="14.6" fill="#000" textLength="17.06" lengthAdjust="spacingAndGlyphs" style='font-family:"Liberation Serif", serif' stroke="#000" stroke-width="0.45">06</text>
<text x="909.87" y="262" font-size="14.6" fill="#000" textLength="18.55" lengthAdjust="spacingAndGlyphs" style='font-family:"Liberation Serif", serif' stroke="#000" stroke-width="0.45">12</text>
<text x="936.19" y="262" font-size="14.6" fill="#000" textLength="18.19" lengthAdjust="spacingAndGlyphs" style='font-family:"Liberation Serif", serif' stroke="#000" stroke-width="0.45">18</text>
<text x="963.41" y="262" font-size="14.6" fill="#000" textLength="17.21" lengthAdjust="spacingAndGlyphs" style='font-family:"Liberation Serif", serif' stroke="#000" stroke-width="0.45">00</text>
<text x="989.71" y="262" font-size="14.6" fill="#000" textLength="17.06" lengthAdjust="spacingAndGlyphs" style='font-family:"Liberation Serif", serif' stroke="#000" stroke-width="0.45">06</text>
<text x="1015.01" y="262" font-size="14.6" fill="#000" textLength="18.55" lengthAdjust="spacingAndGlyphs" style='font-family:"Liberation Serif", serif' stroke="#000" stroke-width="0.45">12</text>
<text x="1041.33" y="262" font-size="14.6" fill="#000" textLength="18.19" lengthAdjust="spacingAndGlyphs" style='font-family:"Liberation Serif", serif' stroke="#000" stroke-width="0.45">18</text>
<text x="1068.55" y="262" font-size="14.6" fill="#000" textLength="17.21" lengthAdjust="spacingAndGlyphs" style='font-family:"Liberation Serif", serif' stroke="#000" stroke-width="0.45">00</text>
<text x="1094.85" y="262" font-size="14.6" fill="#000" textLength="17.06" lengthAdjust="spacingAndGlyphs" style='font-family:"Liberation Serif", serif' stroke="#000" stroke-width="0.45">06</text>
<text x="1120.15" y="262" font-size="14.6" fill="#000" textLength="18.55" lengthAdjust="spacingAndGlyphs" style='font-family:"Liberation Serif", serif' stroke="#000" stroke-width="0.45">12</text>
<text x="1146.47" y="262" font-size="14.6" fill="#000" textLength="18.19" lengthAdjust="spacingAndGlyphs" style='font-family:"Liberation Serif", serif' stroke="#000" stroke-width="0.45">18</text>
<text x="1173.69" y="262" font-size="14.6" fill="#000" textLength="17.21" lengthAdjust="spacingAndGlyphs" style='font-family:"Liberation Serif", serif' stroke="#000" stroke-width="0.45">00</text>
<text x="146.63" y="285.8" font-size="20.6" fill="#000" textLength="36.47" lengthAdjust="spacingAndGlyphs">JAN</text>
<text x="205.47" y="285.8" font-size="20.3" fill="#000" textLength="13.46" lengthAdjust="spacingAndGlyphs">9</text>
<text x="247.8" y="285.8" font-size="20.6" fill="#000" textLength="37.06" lengthAdjust="spacingAndGlyphs">JAN</text>
<text x="296.43" y="285.8" font-size="20.3" fill="#000" textLength="26.18" lengthAdjust="spacingAndGlyphs">10</text>
<text x="352.94" y="285.8" font-size="20.6" fill="#000" textLength="37.06" lengthAdjust="spacingAndGlyphs">JAN</text>
<text x="401.38" y="285.8" font-size="20.3" fill="#000" textLength="28.14" lengthAdjust="spacingAndGlyphs">11</text>
<text x="458.08" y="285.8" font-size="20.6" fill="#000" textLength="37.06" lengthAdjust="spacingAndGlyphs">JAN</text>
<text x="506.63" y="285.8" font-size="20.3" fill="#000" textLength="26.97" lengthAdjust="spacingAndGlyphs">12</text>
<text x="563.22" y="285.8" font-size="20.6" fill="#000" textLength="37.06" lengthAdjust="spacingAndGlyphs">JAN</text>
<text x="611.83" y="285.8" font-size="20.3" fill="#000" textLength="26.37" lengthAdjust="spacingAndGlyphs">13</text>
<text x="668.36" y="285.8" font-size="20.6" fill="#000" textLength="37.06" lengthAdjust="spacingAndGlyphs">JAN</text>
<text x="717.03" y="285.8" font-size="20.3" fill="#000" textLength="25.79" lengthAdjust="spacingAndGlyphs">14</text>
<text x="773.5" y="285.8" font-size="20.6" fill="#000" textLength="37.06" lengthAdjust="spacingAndGlyphs">JAN</text>
<text x="822.1" y="285.8" font-size="20.3" fill="#000" textLength="26.44" lengthAdjust="spacingAndGlyphs">15</text>
<text x="878.64" y="285.8" font-size="20.6" fill="#000" textLength="37.06" lengthAdjust="spacingAndGlyphs">JAN</text>
<text x="927.28" y="285.8" font-size="20.3" fill="#000" textLength="26.1" lengthAdjust="spacingAndGlyphs">16</text>
<text x="983.78" y="285.8" font-size="20.6" fill="#000" textLength="37.06" lengthAdjust="spacingAndGlyphs">JAN</text>
<text x="1032.4" y="285.8" font-size="20.3" fill="#000" textLength="26.32" lengthAdjust="spacingAndGlyphs">17</text>
<text x="1088.92" y="285.8" font-size="20.6" fill="#000" textLength="37.06" lengthAdjust="spacingAndGlyphs">JAN</text>
<text x="1137.55" y="285.8" font-size="20.3" fill="#000" textLength="26.2" lengthAdjust="spacingAndGlyphs">18</text>
<text x="122.29" y="550.2" font-size="14.6" fill="#000" textLength="17.21" lengthAdjust="spacingAndGlyphs" style='font-family:"Liberation Serif", serif' stroke="#000" stroke-width="0.45">00</text>
<text x="148.59" y="550.2" font-size="14.6" fill="#000" textLength="17.06" lengthAdjust="spacingAndGlyphs" style='font-family:"Liberation Serif", serif' stroke="#000" stroke-width="0.45">06</text>
<text x="173.89" y="550.2" font-size="14.6" fill="#000" textLength="18.55" lengthAdjust="spacingAndGlyphs" style='font-family:"Liberation Serif", serif' stroke="#000" stroke-width="0.45">12</text>
<text x="200.21" y="550.2" font-size="14.6" fill="#000" textLength="18.19" lengthAdjust="spacingAndGlyphs" style='font-family:"Liberation Serif", serif' stroke="#000" stroke-width="0.45">18</text>
<text x="227.43" y="550.2" font-size="14.6" fill="#000" textLength="17.21" lengthAdjust="spacingAndGlyphs" style='font-family:"Liberation Serif", serif' stroke="#000" stroke-width="0.45">00</text>
<text x="253.73" y="550.2" font-size="14.6" fill="#000" textLength="17.06" lengthAdjust="spacingAndGlyphs" style='font-family:"Liberation Serif", serif' stroke="#000" stroke-width="0.45">06</text>
<text x="279.03" y="550.2" font-size="14.6" fill="#000" textLength="18.55" lengthAdjust="spacingAndGlyphs" style='font-family:"Liberation Serif", serif' stroke="#000" stroke-width="0.45">12</text>
<text x="305.35" y="550.2" font-size="14.6" fill="#000" textLength="18.19" lengthAdjust="spacingAndGlyphs" style='font-family:"Liberation Serif", serif' stroke="#000" stroke-width="0.45">18</text>
<text x="332.57" y="550.2" font-size="14.6" fill="#000" textLength="17.21" lengthAdjust="spacingAndGlyphs" style='font-family:"Liberation Serif", serif' stroke="#000" stroke-width="0.45">00</text>
<text x="358.87" y="550.2" font-size="14.6" fill="#000" textLength="17.06" lengthAdjust="spacingAndGlyphs" style='font-family:"Liberation Serif", serif' stroke="#000" stroke-width="0.45">06</text>
<text x="384.17" y="550.2" font-size="14.6" fill="#000" textLength="18.55" lengthAdjust="spacingAndGlyphs" style='font-family:"Liberation Serif", serif' stroke="#000" stroke-width="0.45">12</text>
<text x="410.49" y="550.2" font-size="14.6" fill="#000" textLength="18.19" lengthAdjust="spacingAndGlyphs" style='font-family:"Liberation Serif", serif' stroke="#000" stroke-width="0.45">18</text>
<text x="437.71" y="550.2" font-size="14.6" fill="#000" textLength="17.21" lengthAdjust="spacingAndGlyphs" style='font-family:"Liberation Serif", serif' stroke="#000" stroke-width="0.45">00</text>
<text x="464.01" y="550.2" font-size="14.6" fill="#000" textLength="17.06" lengthAdjust="spacingAndGlyphs" style='font-family:"Liberation Serif", serif' stroke="#000" stroke-width="0.45">06</text>
<text x="489.31" y="550.2" font-size="14.6" fill="#000" textLength="18.55" lengthAdjust="spacingAndGlyphs" style='font-family:"Liberation Serif", serif' stroke="#000" stroke-width="0.45">12</text>
<text x="515.63" y="550.2" font-size="14.6" fill="#000" textLength="18.19" lengthAdjust="spacingAndGlyphs" style='font-family:"Liberation Serif", serif' stroke="#000" stroke-width="0.45">18</text>
<text x="542.85" y="550.2" font-size="14.6" fill="#000" textLength="17.21" lengthAdjust="spacingAndGlyphs" style='font-family:"Liberation Serif", serif' stroke="#000" stroke-width="0.45">00</text>
<text x="569.15" y="550.2" font-size="14.6" fill="#000" textLength="17.06" lengthAdjust="spacingAndGlyphs" style='font-family:"Liberation Serif", serif' stroke="#000" stroke-width="0.45">06</text>
<text x="594.45" y="550.2" font-size="14.6" fill="#000" textLength="18.55" lengthAdjust="spacingAndGlyphs" style='font-family:"Liberation Serif", serif' stroke="#000" stroke-width="0.45">12</text>
<text x="620.77" y="550.2" font-size="14.6" fill="#000" textLength="18.19" lengthAdjust="spacingAndGlyphs" style='font-family:"Liberation Serif", serif' stroke="#000" stroke-width="0.45">18</text>
<text x="647.99" y="550.2" font-size="14.6" fill="#000" textLength="17.21" lengthAdjust="spacingAndGlyphs" style='font-family:"Liberation Serif", serif' stroke="#000" stroke-width="0.45">00</text>
<text x="674.29" y="550.2" font-size="14.6" fill="#000" textLength="17.06" lengthAdjust="spacingAndGlyphs" style='font-family:"Liberation Serif", serif' stroke="#000" stroke-width="0.45">06</text>
<text x="699.59" y="550.2" font-size="14.6" fill="#000" textLength="18.55" lengthAdjust="spacingAndGlyphs" style='font-family:"Liberation Serif", serif' stroke="#000" stroke-width="0.45">12</text>
<text x="725.91" y="550.2" font-size="14.6" fill="#000" textLength="18.19" lengthAdjust="spacingAndGlyphs" style='font-family:"Liberation Serif", serif' stroke="#000" stroke-width="0.45">18</text>
<text x="753.13" y="550.2" font-size="14.6" fill="#000" textLength="17.21" lengthAdjust="spacingAndGlyphs" style='font-family:"Liberation Serif", serif' stroke="#000" stroke-width="0.45">00</text>
<text x="779.43" y="550.2" font-size="14.6" fill="#000" textLength="17.06" lengthAdjust="spacingAndGlyphs" style='font-family:"Liberation Serif", serif' stroke="#000" stroke-width="0.45">06</text>
<text x="804.73" y="550.2" font-size="14.6" fill="#000" textLength="18.55" lengthAdjust="spacingAndGlyphs" style='font-family:"Liberation Serif", serif' stroke="#000" stroke-width="0.45">12</text>
<text x="831.05" y="550.2" font-size="14.6" fill="#000" textLength="18.19" lengthAdjust="spacingAndGlyphs" style='font-family:"Liberation Serif", serif' stroke="#000" stroke-width="0.45">18</text>
<text x="858.27" y="550.2" font-size="14.6" fill="#000" textLength="17.21" lengthAdjust="spacingAndGlyphs" style='font-family:"Liberation Serif", serif' stroke="#000" stroke-width="0.45">00</text>
<text x="884.57" y="550.2" font-size="14.6" fill="#000" textLength="17.06" lengthAdjust="spacingAndGlyphs" style='font-family:"Liberation Serif", serif' stroke="#000" stroke-width="0.45">06</text>
<text x="909.87" y="550.2" font-size="14.6" fill="#000" textLength="18.55" lengthAdjust="spacingAndGlyphs" style='font-family:"Liberation Serif", serif' stroke="#000" stroke-width="0.45">12</text>
<text x="936.19" y="550.2" font-size="14.6" fill="#000" textLength="18.19" lengthAdjust="spacingAndGlyphs" style='font-family:"Liberation Serif", serif' stroke="#000" stroke-width="0.45">18</text>
<text x="963.41" y="550.2" font-size="14.6" fill="#000" textLength="17.21" lengthAdjust="spacingAndGlyphs" style='font-family:"Liberation Serif", serif' stroke="#000" stroke-width="0.45">00</text>
<text x="989.71" y="550.2" font-size="14.6" fill="#000" textLength="17.06" lengthAdjust="spacingAndGlyphs" style='font-family:"Liberation Serif", serif' stroke="#000" stroke-width="0.45">06</text>
<text x="1015.01" y="550.2" font-size="14.6" fill="#000" textLength="18.55" lengthAdjust="spacingAndGlyphs" style='font-family:"Liberation Serif", serif' stroke="#000" stroke-width="0.45">12</text>
<text x="1041.33" y="550.2" font-size="14.6" fill="#000" textLength="18.19" lengthAdjust="spacingAndGlyphs" style='font-family:"Liberation Serif", serif' stroke="#000" stroke-width="0.45">18</text>
<text x="1068.55" y="550.2" font-size="14.6" fill="#000" textLength="17.21" lengthAdjust="spacingAndGlyphs" style='font-family:"Liberation Serif", serif' stroke="#000" stroke-width="0.45">00</text>
<text x="1094.85" y="550.2" font-size="14.6" fill="#000" textLength="17.06" lengthAdjust="spacingAndGlyphs" style='font-family:"Liberation Serif", serif' stroke="#000" stroke-width="0.45">06</text>
<text x="1120.15" y="550.2" font-size="14.6" fill="#000" textLength="18.55" lengthAdjust="spacingAndGlyphs" style='font-family:"Liberation Serif", serif' stroke="#000" stroke-width="0.45">12</text>
<text x="1146.47" y="550.2" font-size="14.6" fill="#000" textLength="18.19" lengthAdjust="spacingAndGlyphs" style='font-family:"Liberation Serif", serif' stroke="#000" stroke-width="0.45">18</text>
<text x="1173.69" y="550.2" font-size="14.6" fill="#000" textLength="17.21" lengthAdjust="spacingAndGlyphs" style='font-family:"Liberation Serif", serif' stroke="#000" stroke-width="0.45">00</text>
<text x="146.63" y="574" font-size="20.6" fill="#000" textLength="36.47" lengthAdjust="spacingAndGlyphs">JAN</text>
<text x="205.47" y="574" font-size="20.3" fill="#000" textLength="13.46" lengthAdjust="spacingAndGlyphs">9</text>
<text x="247.8" y="574" font-size="20.6" fill="#000" textLength="37.06" lengthAdjust="spacingAndGlyphs">JAN</text>
<text x="296.43" y="574" font-size="20.3" fill="#000" textLength="26.18" lengthAdjust="spacingAndGlyphs">10</text>
<text x="352.94" y="574" font-size="20.6" fill="#000" textLength="37.06" lengthAdjust="spacingAndGlyphs">JAN</text>
<text x="401.38" y="574" font-size="20.3" fill="#000" textLength="28.14" lengthAdjust="spacingAndGlyphs">11</text>
<text x="458.08" y="574" font-size="20.6" fill="#000" textLength="37.06" lengthAdjust="spacingAndGlyphs">JAN</text>
<text x="506.63" y="574" font-size="20.3" fill="#000" textLength="26.97" lengthAdjust="spacingAndGlyphs">12</text>
<text x="563.22" y="574" font-size="20.6" fill="#000" textLength="37.06" lengthAdjust="spacingAndGlyphs">JAN</text>
<text x="611.83" y="574" font-size="20.3" fill="#000" textLength="26.37" lengthAdjust="spacingAndGlyphs">13</text>
<text x="668.36" y="574" font-size="20.6" fill="#000" textLength="37.06" lengthAdjust="spacingAndGlyphs">JAN</text>
<text x="717.03" y="574" font-size="20.3" fill="#000" textLength="25.79" lengthAdjust="spacingAndGlyphs">14</text>
<text x="773.5" y="574" font-size="20.6" fill="#000" textLength="37.06" lengthAdjust="spacingAndGlyphs">JAN</text>
<text x="822.1" y="574" font-size="20.3" fill="#000" textLength="26.44" lengthAdjust="spacingAndGlyphs">15</text>
<text x="878.64" y="574" font-size="20.6" fill="#000" textLength="37.06" lengthAdjust="spacingAndGlyphs">JAN</text>
<text x="927.28" y="574" font-size="20.3" fill="#000" textLength="26.1" lengthAdjust="spacingAndGlyphs">16</text>
<text x="983.78" y="574" font-size="20.6" fill="#000" textLength="37.06" lengthAdjust="spacingAndGlyphs">JAN</text>
<text x="1032.4" y="574" font-size="20.3" fill="#000" textLength="26.32" lengthAdjust="spacingAndGlyphs">17</text>
<text x="1088.92" y="574" font-size="20.6" fill="#000" textLength="37.06" lengthAdjust="spacingAndGlyphs">JAN</text>
<text x="1137.55" y="574" font-size="20.3" fill="#000" textLength="26.2" lengthAdjust="spacingAndGlyphs">18</text>
<text x="122.29" y="837.9" font-size="14.6" fill="#000" textLength="17.21" lengthAdjust="spacingAndGlyphs" style='font-family:"Liberation Serif", serif' stroke="#000" stroke-width="0.45">00</text>
<text x="148.59" y="837.9" font-size="14.6" fill="#000" textLength="17.06" lengthAdjust="spacingAndGlyphs" style='font-family:"Liberation Serif", serif' stroke="#000" stroke-width="0.45">06</text>
<text x="173.89" y="837.9" font-size="14.6" fill="#000" textLength="18.55" lengthAdjust="spacingAndGlyphs" style='font-family:"Liberation Serif", serif' stroke="#000" stroke-width="0.45">12</text>
<text x="200.21" y="837.9" font-size="14.6" fill="#000" textLength="18.19" lengthAdjust="spacingAndGlyphs" style='font-family:"Liberation Serif", serif' stroke="#000" stroke-width="0.45">18</text>
<text x="227.43" y="837.9" font-size="14.6" fill="#000" textLength="17.21" lengthAdjust="spacingAndGlyphs" style='font-family:"Liberation Serif", serif' stroke="#000" stroke-width="0.45">00</text>
<text x="253.73" y="837.9" font-size="14.6" fill="#000" textLength="17.06" lengthAdjust="spacingAndGlyphs" style='font-family:"Liberation Serif", serif' stroke="#000" stroke-width="0.45">06</text>
<text x="279.03" y="837.9" font-size="14.6" fill="#000" textLength="18.55" lengthAdjust="spacingAndGlyphs" style='font-family:"Liberation Serif", serif' stroke="#000" stroke-width="0.45">12</text>
<text x="305.35" y="837.9" font-size="14.6" fill="#000" textLength="18.19" lengthAdjust="spacingAndGlyphs" style='font-family:"Liberation Serif", serif' stroke="#000" stroke-width="0.45">18</text>
<text x="332.57" y="837.9" font-size="14.6" fill="#000" textLength="17.21" lengthAdjust="spacingAndGlyphs" style='font-family:"Liberation Serif", serif' stroke="#000" stroke-width="0.45">00</text>
<text x="358.87" y="837.9" font-size="14.6" fill="#000" textLength="17.06" lengthAdjust="spacingAndGlyphs" style='font-family:"Liberation Serif", serif' stroke="#000" stroke-width="0.45">06</text>
<text x="384.17" y="837.9" font-size="14.6" fill="#000" textLength="18.55" lengthAdjust="spacingAndGlyphs" style='font-family:"Liberation Serif", serif' stroke="#000" stroke-width="0.45">12</text>
<text x="410.49" y="837.9" font-size="14.6" fill="#000" textLength="18.19" lengthAdjust="spacingAndGlyphs" style='font-family:"Liberation Serif", serif' stroke="#000" stroke-width="0.45">18</text>
<text x="437.71" y="837.9" font-size="14.6" fill="#000" textLength="17.21" lengthAdjust="spacingAndGlyphs" style='font-family:"Liberation Serif", serif' stroke="#000" stroke-width="0.45">00</text>
<text x="464.01" y="837.9" font-size="14.6" fill="#000" textLength="17.06" lengthAdjust="spacingAndGlyphs" style='font-family:"Liberation Serif", serif' stroke="#000" stroke-width="0.45">06</text>
<text x="489.31" y="837.9" font-size="14.6" fill="#000" textLength="18.55" lengthAdjust="spacingAndGlyphs" style='font-family:"Liberation Serif", serif' stroke="#000" stroke-width="0.45">12</text>
<text x="515.63" y="837.9" font-size="14.6" fill="#000" textLength="18.19" lengthAdjust="spacingAndGlyphs" style='font-family:"Liberation Serif", serif' stroke="#000" stroke-width="0.45">18</text>
<text x="542.85" y="837.9" font-size="14.6" fill="#000" textLength="17.21" lengthAdjust="spacingAndGlyphs" style='font-family:"Liberation Serif", serif' stroke="#000" stroke-width="0.45">00</text>
<text x="569.15" y="837.9" font-size="14.6" fill="#000" textLength="17.06" lengthAdjust="spacingAndGlyphs" style='font-family:"Liberation Serif", serif' stroke="#000" stroke-width="0.45">06</text>
<text x="594.45" y="837.9" font-size="14.6" fill="#000" textLength="18.55" lengthAdjust="spacingAndGlyphs" style='font-family:"Liberation Serif", serif' stroke="#000" stroke-width="0.45">12</text>
<text x="620.77" y="837.9" font-size="14.6" fill="#000" textLength="18.19" lengthAdjust="spacingAndGlyphs" style='font-family:"Liberation Serif", serif' stroke="#000" stroke-width="0.45">18</text>
<text x="647.99" y="837.9" font-size="14.6" fill="#000" textLength="17.21" lengthAdjust="spacingAndGlyphs" style='font-family:"Liberation Serif", serif' stroke="#000" stroke-width="0.45">00</text>
<text x="674.29" y="837.9" font-size="14.6" fill="#000" textLength="17.06" lengthAdjust="spacingAndGlyphs" style='font-family:"Liberation Serif", serif' stroke="#000" stroke-width="0.45">06</text>
<text x="699.59" y="837.9" font-size="14.6" fill="#000" textLength="18.55" lengthAdjust="spacingAndGlyphs" style='font-family:"Liberation Serif", serif' stroke="#000" stroke-width="0.45">12</text>
<text x="725.91" y="837.9" font-size="14.6" fill="#000" textLength="18.19" lengthAdjust="spacingAndGlyphs" style='font-family:"Liberation Serif", serif' stroke="#000" stroke-width="0.45">18</text>
<text x="753.13" y="837.9" font-size="14.6" fill="#000" textLength="17.21" lengthAdjust="spacingAndGlyphs" style='font-family:"Liberation Serif", serif' stroke="#000" stroke-width="0.45">00</text>
<text x="779.43" y="837.9" font-size="14.6" fill="#000" textLength="17.06" lengthAdjust="spacingAndGlyphs" style='font-family:"Liberation Serif", serif' stroke="#000" stroke-width="0.45">06</text>
<text x="804.73" y="837.9" font-size="14.6" fill="#000" textLength="18.55" lengthAdjust="spacingAndGlyphs" style='font-family:"Liberation Serif", serif' stroke="#000" stroke-width="0.45">12</text>
<text x="831.05" y="837.9" font-size="14.6" fill="#000" textLength="18.19" lengthAdjust="spacingAndGlyphs" style='font-family:"Liberation Serif", serif' stroke="#000" stroke-width="0.45">18</text>
<text x="858.27" y="837.9" font-size="14.6" fill="#000" textLength="17.21" lengthAdjust="spacingAndGlyphs" style='font-family:"Liberation Serif", serif' stroke="#000" stroke-width="0.45">00</text>
<text x="884.57" y="837.9" font-size="14.6" fill="#000" textLength="17.06" lengthAdjust="spacingAndGlyphs" style='font-family:"Liberation Serif", serif' stroke="#000" stroke-width="0.45">06</text>
<text x="909.87" y="837.9" font-size="14.6" fill="#000" textLength="18.55" lengthAdjust="spacingAndGlyphs" style='font-family:"Liberation Serif", serif' stroke="#000" stroke-width="0.45">12</text>
<text x="936.19" y="837.9" font-size="14.6" fill="#000" textLength="18.19" lengthAdjust="spacingAndGlyphs" style='font-family:"Liberation Serif", serif' stroke="#000" stroke-width="0.45">18</text>
<text x="963.41" y="837.9" font-size="14.6" fill="#000" textLength="17.21" lengthAdjust="spacingAndGlyphs" style='font-family:"Liberation Serif", serif' stroke="#000" stroke-width="0.45">00</text>
<text x="989.71" y="837.9" font-size="14.6" fill="#000" textLength="17.06" lengthAdjust="spacingAndGlyphs" style='font-family:"Liberation Serif", serif' stroke="#000" stroke-width="0.45">06</text>
<text x="1015.01" y="837.9" font-size="14.6" fill="#000" textLength="18.55" lengthAdjust="spacingAndGlyphs" style='font-family:"Liberation Serif", serif' stroke="#000" stroke-width="0.45">12</text>
<text x="1041.33" y="837.9" font-size="14.6" fill="#000" textLength="18.19" lengthAdjust="spacingAndGlyphs" style='font-family:"Liberation Serif", serif' stroke="#000" stroke-width="0.45">18</text>
<text x="1068.55" y="837.9" font-size="14.6" fill="#000" textLength="17.21" lengthAdjust="spacingAndGlyphs" style='font-family:"Liberation Serif", serif' stroke="#000" stroke-width="0.45">00</text>
<text x="1094.85" y="837.9" font-size="14.6" fill="#000" textLength="17.06" lengthAdjust="spacingAndGlyphs" style='font-family:"Liberation Serif", serif' stroke="#000" stroke-width="0.45">06</text>
<text x="1120.15" y="837.9" font-size="14.6" fill="#000" textLength="18.55" lengthAdjust="spacingAndGlyphs" style='font-family:"Liberation Serif", serif' stroke="#000" stroke-width="0.45">12</text>
<text x="1146.47" y="837.9" font-size="14.6" fill="#000" textLength="18.19" lengthAdjust="spacingAndGlyphs" style='font-family:"Liberation Serif", serif' stroke="#000" stroke-width="0.45">18</text>
<text x="1173.69" y="837.9" font-size="14.6" fill="#000" textLength="17.21" lengthAdjust="spacingAndGlyphs" style='font-family:"Liberation Serif", serif' stroke="#000" stroke-width="0.45">00</text>
<text x="146.63" y="861.7" font-size="20.6" fill="#000" textLength="36.47" lengthAdjust="spacingAndGlyphs">JAN</text>
<text x="205.47" y="861.7" font-size="20.3" fill="#000" textLength="13.46" lengthAdjust="spacingAndGlyphs">9</text>
<text x="247.8" y="861.7" font-size="20.6" fill="#000" textLength="37.06" lengthAdjust="spacingAndGlyphs">JAN</text>
<text x="296.43" y="861.7" font-size="20.3" fill="#000" textLength="26.18" lengthAdjust="spacingAndGlyphs">10</text>
<text x="352.94" y="861.7" font-size="20.6" fill="#000" textLength="37.06" lengthAdjust="spacingAndGlyphs">JAN</text>
<text x="401.38" y="861.7" font-size="20.3" fill="#000" textLength="28.14" lengthAdjust="spacingAndGlyphs">11</text>
<text x="458.08" y="861.7" font-size="20.6" fill="#000" textLength="37.06" lengthAdjust="spacingAndGlyphs">JAN</text>
<text x="506.63" y="861.7" font-size="20.3" fill="#000" textLength="26.97" lengthAdjust="spacingAndGlyphs">12</text>
<text x="563.22" y="861.7" font-size="20.6" fill="#000" textLength="37.06" lengthAdjust="spacingAndGlyphs">JAN</text>
<text x="611.83" y="861.7" font-size="20.3" fill="#000" textLength="26.37" lengthAdjust="spacingAndGlyphs">13</text>
<text x="668.36" y="861.7" font-size="20.6" fill="#000" textLength="37.06" lengthAdjust="spacingAndGlyphs">JAN</text>
<text x="717.03" y="861.7" font-size="20.3" fill="#000" textLength="25.79" lengthAdjust="spacingAndGlyphs">14</text>
<text x="773.5" y="861.7" font-size="20.6" fill="#000" textLength="37.06" lengthAdjust="spacingAndGlyphs">JAN</text>
<text x="822.1" y="861.7" font-size="20.3" fill="#000" textLength="26.44" lengthAdjust="spacingAndGlyphs">15</text>
<text x="878.64" y="861.7" font-size="20.6" fill="#000" textLength="37.06" lengthAdjust="spacingAndGlyphs">JAN</text>
<text x="927.28" y="861.7" font-size="20.3" fill="#000" textLength="26.1" lengthAdjust="spacingAndGlyphs">16</text>
<text x="983.78" y="861.7" font-size="20.6" fill="#000" textLength="37.06" lengthAdjust="spacingAndGlyphs">JAN</text>
<text x="1032.4" y="861.7" font-size="20.3" fill="#000" textLength="26.32" lengthAdjust="spacingAndGlyphs">17</text>
<text x="1088.92" y="861.7" font-size="20.6" fill="#000" textLength="37.06" lengthAdjust="spacingAndGlyphs">JAN</text>
<text x="1137.55" y="861.7" font-size="20.3" fill="#000" textLength="26.2" lengthAdjust="spacingAndGlyphs">18</text>
<text x="122.29" y="1126" font-size="14.6" fill="#000" textLength="17.21" lengthAdjust="spacingAndGlyphs" style='font-family:"Liberation Serif", serif' stroke="#000" stroke-width="0.45">00</text>
<text x="148.59" y="1126" font-size="14.6" fill="#000" textLength="17.06" lengthAdjust="spacingAndGlyphs" style='font-family:"Liberation Serif", serif' stroke="#000" stroke-width="0.45">06</text>
<text x="173.89" y="1126" font-size="14.6" fill="#000" textLength="18.55" lengthAdjust="spacingAndGlyphs" style='font-family:"Liberation Serif", serif' stroke="#000" stroke-width="0.45">12</text>
<text x="200.21" y="1126" font-size="14.6" fill="#000" textLength="18.19" lengthAdjust="spacingAndGlyphs" style='font-family:"Liberation Serif", serif' stroke="#000" stroke-width="0.45">18</text>
<text x="227.43" y="1126" font-size="14.6" fill="#000" textLength="17.21" lengthAdjust="spacingAndGlyphs" style='font-family:"Liberation Serif", serif' stroke="#000" stroke-width="0.45">00</text>
<text x="253.73" y="1126" font-size="14.6" fill="#000" textLength="17.06" lengthAdjust="spacingAndGlyphs" style='font-family:"Liberation Serif", serif' stroke="#000" stroke-width="0.45">06</text>
<text x="279.03" y="1126" font-size="14.6" fill="#000" textLength="18.55" lengthAdjust="spacingAndGlyphs" style='font-family:"Liberation Serif", serif' stroke="#000" stroke-width="0.45">12</text>
<text x="305.35" y="1126" font-size="14.6" fill="#000" textLength="18.19" lengthAdjust="spacingAndGlyphs" style='font-family:"Liberation Serif", serif' stroke="#000" stroke-width="0.45">18</text>
<text x="332.57" y="1126" font-size="14.6" fill="#000" textLength="17.21" lengthAdjust="spacingAndGlyphs" style='font-family:"Liberation Serif", serif' stroke="#000" stroke-width="0.45">00</text>
<text x="358.87" y="1126" font-size="14.6" fill="#000" textLength="17.06" lengthAdjust="spacingAndGlyphs" style='font-family:"Liberation Serif", serif' stroke="#000" stroke-width="0.45">06</text>
<text x="384.17" y="1126" font-size="14.6" fill="#000" textLength="18.55" lengthAdjust="spacingAndGlyphs" style='font-family:"Liberation Serif", serif' stroke="#000" stroke-width="0.45">12</text>
<text x="410.49" y="1126" font-size="14.6" fill="#000" textLength="18.19" lengthAdjust="spacingAndGlyphs" style='font-family:"Liberation Serif", serif' stroke="#000" stroke-width="0.45">18</text>
<text x="437.71" y="1126" font-size="14.6" fill="#000" textLength="17.21" lengthAdjust="spacingAndGlyphs" style='font-family:"Liberation Serif", serif' stroke="#000" stroke-width="0.45">00</text>
<text x="464.01" y="1126" font-size="14.6" fill="#000" textLength="17.06" lengthAdjust="spacingAndGlyphs" style='font-family:"Liberation Serif", serif' stroke="#000" stroke-width="0.45">06</text>
<text x="489.31" y="1126" font-size="14.6" fill="#000" textLength="18.55" lengthAdjust="spacingAndGlyphs" style='font-family:"Liberation Serif", serif' stroke="#000" stroke-width="0.45">12</text>
<text x="515.63" y="1126" font-size="14.6" fill="#000" textLength="18.19" lengthAdjust="spacingAndGlyphs" style='font-family:"Liberation Serif", serif' stroke="#000" stroke-width="0.45">18</text>
<text x="542.85" y="1126" font-size="14.6" fill="#000" textLength="17.21" lengthAdjust="spacingAndGlyphs" style='font-family:"Liberation Serif", serif' stroke="#000" stroke-width="0.45">00</text>
<text x="569.15" y="1126" font-size="14.6" fill="#000" textLength="17.06" lengthAdjust="spacingAndGlyphs" style='font-family:"Liberation Serif", serif' stroke="#000" stroke-width="0.45">06</text>
<text x="594.45" y="1126" font-size="14.6" fill="#000" textLength="18.55" lengthAdjust="spacingAndGlyphs" style='font-family:"Liberation Serif", serif' stroke="#000" stroke-width="0.45">12</text>
<text x="620.77" y="1126" font-size="14.6" fill="#000" textLength="18.19" lengthAdjust="spacingAndGlyphs" style='font-family:"Liberation Serif", serif' stroke="#000" stroke-width="0.45">18</text>
<text x="647.99" y="1126" font-size="14.6" fill="#000" textLength="17.21" lengthAdjust="spacingAndGlyphs" style='font-family:"Liberation Serif", serif' stroke="#000" stroke-width="0.45">00</text>
<text x="674.29" y="1126" font-size="14.6" fill="#000" textLength="17.06" lengthAdjust="spacingAndGlyphs" style='font-family:"Liberation Serif", serif' stroke="#000" stroke-width="0.45">06</text>
<text x="699.59" y="1126" font-size="14.6" fill="#000" textLength="18.55" lengthAdjust="spacingAndGlyphs" style='font-family:"Liberation Serif", serif' stroke="#000" stroke-width="0.45">12</text>
<text x="725.91" y="1126" font-size="14.6" fill="#000" textLength="18.19" lengthAdjust="spacingAndGlyphs" style='font-family:"Liberation Serif", serif' stroke="#000" stroke-width="0.45">18</text>
<text x="753.13" y="1126" font-size="14.6" fill="#000" textLength="17.21" lengthAdjust="spacingAndGlyphs" style='font-family:"Liberation Serif", serif' stroke="#000" stroke-width="0.45">00</text>
<text x="779.43" y="1126" font-size="14.6" fill="#000" textLength="17.06" lengthAdjust="spacingAndGlyphs" style='font-family:"Liberation Serif", serif' stroke="#000" stroke-width="0.45">06</text>
<text x="804.73" y="1126" font-size="14.6" fill="#000" textLength="18.55" lengthAdjust="spacingAndGlyphs" style='font-family:"Liberation Serif", serif' stroke="#000" stroke-width="0.45">12</text>
<text x="831.05" y="1126" font-size="14.6" fill="#000" textLength="18.19" lengthAdjust="spacingAndGlyphs" style='font-family:"Liberation Serif", serif' stroke="#000" stroke-width="0.45">18</text>
<text x="858.27" y="1126" font-size="14.6" fill="#000" textLength="17.21" lengthAdjust="spacingAndGlyphs" style='font-family:"Liberation Serif", serif' stroke="#000" stroke-width="0.45">00</text>
<text x="884.57" y="1126" font-size="14.6" fill="#000" textLength="17.06" lengthAdjust="spacingAndGlyphs" style='font-family:"Liberation Serif", serif' stroke="#000" stroke-width="0.45">06</text>
<text x="909.87" y="1126" font-size="14.6" fill="#000" textLength="18.55" lengthAdjust="spacingAndGlyphs" style='font-family:"Liberation Serif", serif' stroke="#000" stroke-width="0.45">12</text>
<text x="936.19" y="1126" font-size="14.6" fill="#000" textLength="18.19" lengthAdjust="spacingAndGlyphs" style='font-family:"Liberation Serif", serif' stroke="#000" stroke-width="0.45">18</text>
<text x="963.41" y="1126" font-size="14.6" fill="#000" textLength="17.21" lengthAdjust="spacingAndGlyphs" style='font-family:"Liberation Serif", serif' stroke="#000" stroke-width="0.45">00</text>
<text x="989.71" y="1126" font-size="14.6" fill="#000" textLength="17.06" lengthAdjust="spacingAndGlyphs" style='font-family:"Liberation Serif", serif' stroke="#000" stroke-width="0.45">06</text>
<text x="1015.01" y="1126" font-size="14.6" fill="#000" textLength="18.55" lengthAdjust="spacingAndGlyphs" style='font-family:"Liberation Serif", serif' stroke="#000" stroke-width="0.45">12</text>
<text x="1041.33" y="1126" font-size="14.6" fill="#000" textLength="18.19" lengthAdjust="spacingAndGlyphs" style='font-family:"Liberation Serif", serif' stroke="#000" stroke-width="0.45">18</text>
<text x="1068.55" y="1126" font-size="14.6" fill="#000" textLength="17.21" lengthAdjust="spacingAndGlyphs" style='font-family:"Liberation Serif", serif' stroke="#000" stroke-width="0.45">00</text>
<text x="1094.85" y="1126" font-size="14.6" fill="#000" textLength="17.06" lengthAdjust="spacingAndGlyphs" style='font-family:"Liberation Serif", serif' stroke="#000" stroke-width="0.45">06</text>
<text x="1120.15" y="1126" font-size="14.6" fill="#000" textLength="18.55" lengthAdjust="spacingAndGlyphs" style='font-family:"Liberation Serif", serif' stroke="#000" stroke-width="0.45">12</text>
<text x="1146.47" y="1126" font-size="14.6" fill="#000" textLength="18.19" lengthAdjust="spacingAndGlyphs" style='font-family:"Liberation Serif", serif' stroke="#000" stroke-width="0.45">18</text>
<text x="1173.69" y="1126" font-size="14.6" fill="#000" textLength="17.21" lengthAdjust="spacingAndGlyphs" style='font-family:"Liberation Serif", serif' stroke="#000" stroke-width="0.45">00</text>
<text x="146.63" y="1149.8" font-size="20.6" fill="#000" textLength="36.47" lengthAdjust="spacingAndGlyphs">JAN</text>
<text x="205.47" y="1149.8" font-size="20.3" fill="#000" textLength="13.46" lengthAdjust="spacingAndGlyphs">9</text>
<text x="247.8" y="1149.8" font-size="20.6" fill="#000" textLength="37.06" lengthAdjust="spacingAndGlyphs">JAN</text>
<text x="296.43" y="1149.8" font-size="20.3" fill="#000" textLength="26.18" lengthAdjust="spacingAndGlyphs">10</text>
<text x="352.94" y="1149.8" font-size="20.6" fill="#000" textLength="37.06" lengthAdjust="spacingAndGlyphs">JAN</text>
<text x="401.38" y="1149.8" font-size="20.3" fill="#000" textLength="28.14" lengthAdjust="spacingAndGlyphs">11</text>
<text x="458.08" y="1149.8" font-size="20.6" fill="#000" textLength="37.06" lengthAdjust="spacingAndGlyphs">JAN</text>
<text x="506.63" y="1149.8" font-size="20.3" fill="#000" textLength="26.97" lengthAdjust="spacingAndGlyphs">12</text>
<text x="563.22" y="1149.8" font-size="20.6" fill="#000" textLength="37.06" lengthAdjust="spacingAndGlyphs">JAN</text>
<text x="611.83" y="1149.8" font-size="20.3" fill="#000" textLength="26.37" lengthAdjust="spacingAndGlyphs">13</text>
<text x="668.36" y="1149.8" font-size="20.6" fill="#000" textLength="37.06" lengthAdjust="spacingAndGlyphs">JAN</text>
<text x="717.03" y="1149.8" font-size="20.3" fill="#000" textLength="25.79" lengthAdjust="spacingAndGlyphs">14</text>
<text x="773.5" y="1149.8" font-size="20.6" fill="#000" textLength="37.06" lengthAdjust="spacingAndGlyphs">JAN</text>
<text x="822.1" y="1149.8" font-size="20.3" fill="#000" textLength="26.44" lengthAdjust="spacingAndGlyphs">15</text>
<text x="878.64" y="1149.8" font-size="20.6" fill="#000" textLength="37.06" lengthAdjust="spacingAndGlyphs">JAN</text>
<text x="927.28" y="1149.8" font-size="20.3" fill="#000" textLength="26.1" lengthAdjust="spacingAndGlyphs">16</text>
<text x="983.78" y="1149.8" font-size="20.6" fill="#000" textLength="37.06" lengthAdjust="spacingAndGlyphs">JAN</text>
<text x="1032.4" y="1149.8" font-size="20.3" fill="#000" textLength="26.32" lengthAdjust="spacingAndGlyphs">17</text>
<text x="1088.92" y="1149.8" font-size="20.6" fill="#000" textLength="37.06" lengthAdjust="spacingAndGlyphs">JAN</text>
<text x="1137.55" y="1149.8" font-size="20.3" fill="#000" textLength="26.2" lengthAdjust="spacingAndGlyphs">18</text>
<text transform="translate(50 204.05) rotate(-90)" x="0" y="0" font-size="19.9" textLength="157.62" lengthAdjust="spacing">2m Temp. (°C)</text>
<text transform="translate(65.2 501.43) rotate(-90)" x="0" y="0" font-size="19.9" textLength="177.6" lengthAdjust="spacing">10m Wind (m/s)</text>
<text transform="translate(52.8 818.2) rotate(-90)" x="0" y="0" font-size="19.9" textLength="234.47" lengthAdjust="spacing">Energy fluxes (W/m<tspan font-size="14.5" dy="-7.8">2</tspan><tspan dy="7.8">)</tspan></text>
<text transform="translate(52.7 1071.9) rotate(-90)" x="0" y="0" font-size="19.9" textLength="166.17" lengthAdjust="spacing">Precip (mm/h)</text>
<text transform="translate(52.6 1365.57) rotate(-90)" x="0" y="0" font-size="19.9" textLength="190.75" lengthAdjust="spacing">Snow height (cm)</text>
<text x="174.62" y="32.8" font-size="20.2" fill="#000" textLength="22.88" lengthAdjust="spacingAndGlyphs">Fr</text>
<text transform="matrix(1.0207 0 0 1 171.06 1365.8)" x="0" y="0" font-size="20.2" fill="#000" textLength="24.14" lengthAdjust="spacing">Fr</text>
<text transform="matrix(1.0165 0 0 1 273.88 32.8)" x="0" y="0" font-size="20.2" fill="#ff0000" textLength="26.27" lengthAdjust="spacing">Sa</text>
<text x="270.34" y="1365.8" font-size="20.2" fill="#ff0000" textLength="25.32" lengthAdjust="spacingAndGlyphs">Sa</text>
<text transform="matrix(1.0322 0 0 1 380.35 32.8)" x="0" y="0" font-size="20.2" fill="#ff0000" textLength="27.63" lengthAdjust="spacing">Su</text>
<text transform="matrix(1.0362 0 0 1 375.04 1365.8)" x="0" y="0" font-size="20.2" fill="#ff0000" textLength="27.73" lengthAdjust="spacing">Su</text>
<text x="486.77" y="32.8" font-size="20.2" fill="#000" textLength="30.26" lengthAdjust="spacingAndGlyphs">Mo</text>
<text x="480.59" y="1365.8" font-size="20.2" fill="#000" textLength="29.84" lengthAdjust="spacingAndGlyphs">Mo</text>
<text transform="matrix(1.0206 0 0 1 595 32.8)" x="0" y="0" font-size="20.2" fill="#000" textLength="27.01" lengthAdjust="spacing">Tu</text>
<text transform="matrix(1.0206 0 0 1 587 1365.8)" x="0" y="0" font-size="20.2" fill="#000" textLength="27.01" lengthAdjust="spacing">Tu</text>
<text x="702.92" y="32.8" font-size="20.2" fill="#000" textLength="26.7" lengthAdjust="spacingAndGlyphs">We</text>
<text x="693.22" y="1365.8" font-size="20.2" fill="#000" textLength="27.53" lengthAdjust="spacingAndGlyphs">We</text>
<text transform="matrix(1.0169 0 0 1 807.6 32.8)" x="0" y="0" font-size="20.2" fill="#000" textLength="26.92" lengthAdjust="spacing">Th</text>
<text transform="matrix(1.0169 0 0 1 797.4 1365.8)" x="0" y="0" font-size="20.2" fill="#000" textLength="26.92" lengthAdjust="spacing">Th</text>
<text transform="matrix(1.0120 0 0 1 916.27 32.8)" x="0" y="0" font-size="20.2" fill="#000" textLength="23.94" lengthAdjust="spacing">Fr</text>
<text transform="matrix(1.0120 0 0 1 904.27 1365.8)" x="0" y="0" font-size="20.2" fill="#000" textLength="23.94" lengthAdjust="spacing">Fr</text>
<text transform="matrix(1.0248 0 0 1 1020.46 32.8)" x="0" y="0" font-size="20.2" fill="#ff0000" textLength="26.47" lengthAdjust="spacing">Sa</text>
<text transform="matrix(1.0165 0 0 1 1007.58 1365.8)" x="0" y="0" font-size="20.2" fill="#ff0000" textLength="26.27" lengthAdjust="spacing">Sa</text>
<text transform="matrix(1.0441 0 0 1 1126.53 32.8)" x="0" y="0" font-size="20.2" fill="#ff0000" textLength="27.92" lengthAdjust="spacing">Su</text>
<text transform="matrix(1.0441 0 0 1 1111.83 1365.8)" x="0" y="0" font-size="20.2" fill="#ff0000" textLength="27.92" lengthAdjust="spacing">Su</text>
<text x="177.29" y="1399.5" font-size="13.6" fill="#000" textLength="7.97" lengthAdjust="spacingAndGlyphs" style='font-family:"Liberation Serif", serif' stroke="#000" stroke-width="0.35">9</text>
<text x="278.71" y="1399.5" font-size="13.6" fill="#000" textLength="16.93" lengthAdjust="spacingAndGlyphs" style='font-family:"Liberation Serif", serif' stroke="#000" stroke-width="0.35">10</text>
<text x="382.97" y="1399.5" font-size="13.6" fill="#000" textLength="17.37" lengthAdjust="spacingAndGlyphs" style='font-family:"Liberation Serif", serif' stroke="#000" stroke-width="0.35">11</text>
<text x="488.58" y="1399.5" font-size="13.6" fill="#000" textLength="17.27" lengthAdjust="spacingAndGlyphs" style='font-family:"Liberation Serif", serif' stroke="#000" stroke-width="0.35">12</text>
<text x="593.81" y="1399.5" font-size="13.6" fill="#000" textLength="16.95" lengthAdjust="spacingAndGlyphs" style='font-family:"Liberation Serif", serif' stroke="#000" stroke-width="0.35">13</text>
<text x="699.15" y="1399.5" font-size="13.6" fill="#000" textLength="16.51" lengthAdjust="spacingAndGlyphs" style='font-family:"Liberation Serif", serif' stroke="#000" stroke-width="0.35">14</text>
<text x="804.21" y="1399.5" font-size="13.6" fill="#000" textLength="16.95" lengthAdjust="spacingAndGlyphs" style='font-family:"Liberation Serif", serif' stroke="#000" stroke-width="0.35">15</text>
<text x="909.93" y="1399.5" font-size="13.6" fill="#000" textLength="16.77" lengthAdjust="spacingAndGlyphs" style='font-family:"Liberation Serif", serif' stroke="#000" stroke-width="0.35">16</text>
<text x="1015.13" y="1399.5" font-size="13.6" fill="#000" textLength="16.76" lengthAdjust="spacingAndGlyphs" style='font-family:"Liberation Serif", serif' stroke="#000" stroke-width="0.35">17</text>
<text x="1120.31" y="1399.5" font-size="13.6" fill="#000" textLength="16.93" lengthAdjust="spacingAndGlyphs" style='font-family:"Liberation Serif", serif' stroke="#000" stroke-width="0.35">18</text>
<text transform="matrix(1.0507 0 0 1 140.79 144.8)" x="0" y="0" font-size="20.2" fill="#ff0000" textLength="140.63" lengthAdjust="spacing" stroke="#ff0000" stroke-width="0.22">Temperature</text>
<text transform="matrix(1.0066 0 0 1 141.4 172.2)" x="0" y="0" font-size="20.2" fill="#1e8c1e" textLength="59.32" lengthAdjust="spacing" stroke="#1e8c1e" stroke-width="0.22">Vigne</text>
<text transform="matrix(1.0571 0 0 1 212.98 172.2)" x="0" y="0" font-size="20.2" fill="#1e8c1e" textLength="55.04" lengthAdjust="spacing" stroke="#1e8c1e" stroke-width="0.22">temp</text>
<text transform="matrix(1.0400 0 0 1 140.04 199.6)" x="0" y="0" font-size="20.2" fill="#0000ff" textLength="96.17" lengthAdjust="spacing" stroke="#0000ff" stroke-width="0.22">Humidex</text>
<text transform="matrix(1.0258 0 0 1 140.06 227.9)" x="0" y="0" font-size="20.2" fill="#00ff00" textLength="101.29" lengthAdjust="spacing" stroke="#00ff00" stroke-width="0.22">DewPoint</text>
<text transform="matrix(1.0358 0 0 1 254.8 227.9)" x="0" y="0" font-size="20.2" fill="#00ff00" textLength="59.53" lengthAdjust="spacing" stroke="#00ff00" stroke-width="0.22">Temp</text>
<text transform="matrix(1.0399 0 0 1 990.64 228)" x="0" y="0" font-size="20.2" fill="#000" textLength="44.06" lengthAdjust="spacing" stroke="#000" stroke-width="0.22">run:</text>
<text transform="matrix(1.0213 0 0 1 1045.81 228.2)" x="0" y="0" font-size="18.6" fill="#000" textLength="120.81" lengthAdjust="spacing" stroke="#000" stroke-width="0.22">2026010906</text>
<text x="141.71" y="348.8" font-size="20.2" fill="#ff0000" textLength="50.76" lengthAdjust="spacingAndGlyphs" stroke="#ff0000" stroke-width="0.22">Wind</text>
<text transform="matrix(1.0269 0 0 1 203.64 348.8)" x="0" y="0" font-size="20.2" fill="#ff0000" textLength="61.71" lengthAdjust="spacing" stroke="#ff0000" stroke-width="0.22">speed</text>
<text x="141.71" y="376.3" font-size="20.2" fill="#0000ff" textLength="50.76" lengthAdjust="spacingAndGlyphs" stroke="#0000ff" stroke-width="0.22">Wind</text>
<text transform="matrix(1.0479 0 0 1 203.75 376.3)" x="0" y="0" font-size="20.2" fill="#0000ff" textLength="46.49" lengthAdjust="spacing" stroke="#0000ff" stroke-width="0.22">gust</text>
<text transform="matrix(1.0396 0 0 1 139.24 636.8)" x="0" y="0" font-size="20.2" fill="#ff0000" textLength="56.24" lengthAdjust="spacing" stroke="#ff0000" stroke-width="0.22">Solar</text>
<text transform="matrix(1.0517 0 0 1 139.83 664.5)" x="0" y="0" font-size="20.2" fill="#0000ff" textLength="89" lengthAdjust="spacing" stroke="#0000ff" stroke-width="0.22">Infrared</text>
<text transform="matrix(1.0073 0 0 1 140.8 692.9)" x="0" y="0" font-size="20.2" fill="#1e8c1e" textLength="38.84" lengthAdjust="spacing" stroke="#1e8c1e" stroke-width="0.22">Top</text>
<text x="191.91" y="692.9" font-size="20.2" fill="#1e8c1e" textLength="19.3" lengthAdjust="spacingAndGlyphs" stroke="#1e8c1e" stroke-width="0.22">of</text>
<text transform="matrix(1.0488 0 0 1 225.22 692.9)" x="0" y="0" font-size="20.2" fill="#1e8c1e" textLength="129.89" lengthAdjust="spacing" stroke="#1e8c1e" stroke-width="0.22">Atmosphere</text>
<text transform="matrix(1.0609 0 0 1 370 692.9)" x="0" y="0" font-size="20.2" fill="#1e8c1e" textLength="73.98" lengthAdjust="spacing" stroke="#1e8c1e" stroke-width="0.22">(Solar)</text>
<text transform="matrix(1.0333 0 0 1 139.85 924.6)" x="0" y="0" font-size="20.2" fill="#1e8c1e" textLength="67.32" lengthAdjust="spacing" stroke="#1e8c1e" stroke-width="0.22">Liquid</text>
<text transform="matrix(1.0495 0 0 1 221.09 924.6)" x="0" y="0" font-size="20.2" fill="#1e8c1e" textLength="68.39" lengthAdjust="spacing" stroke="#1e8c1e" stroke-width="0.22">precip</text>
<text transform="matrix(1.1200 0 0 1 302.51 924.6)" x="0" y="0" font-size="20.2" fill="#1e8c1e" textLength="86.41" lengthAdjust="spacing" stroke="#1e8c1e" stroke-width="0.22">(mm/h)</text>
<text transform="matrix(1.0061 0 0 1 138.99 952.4)" x="0" y="0" font-size="20.2" fill="#0000ff" textLength="56.63" lengthAdjust="spacing" stroke="#0000ff" stroke-width="0.22">Snow</text>
<text transform="matrix(1.0442 0 0 1 209.29 952.4)" x="0" y="0" font-size="20.2" fill="#0000ff" textLength="68.06" lengthAdjust="spacing" stroke="#0000ff" stroke-width="0.22">precip</text>
<text transform="matrix(1.1200 0 0 1 290.01 952.4)" x="0" y="0" font-size="20.2" fill="#0000ff" textLength="85.96" lengthAdjust="spacing" stroke="#0000ff" stroke-width="0.22">(mm/h)</text>
<text transform="matrix(1.0395 0 0 1 140.49 979.5)" x="0" y="0" font-size="20.2" fill="#ff0000" textLength="54.29" lengthAdjust="spacing" stroke="#ff0000" stroke-width="0.22">Total</text>
<text transform="matrix(1.0616 0 0 1 208.83 979.5)" x="0" y="0" font-size="20.2" fill="#ff0000" textLength="114.54" lengthAdjust="spacing" stroke="#ff0000" stroke-width="0.22">cumulated</text>
<text transform="matrix(1.1108 0 0 1 340.93 979.5)" x="0" y="0" font-size="20.2" fill="#ff0000" textLength="51" lengthAdjust="spacing" stroke="#ff0000" stroke-width="0.22">(cm)</text>
<text transform="matrix(1.0070 0 0 1 137.39 1201)" x="0" y="0" font-size="20.2" fill="#ff0000" textLength="56.68" lengthAdjust="spacing" stroke="#ff0000" stroke-width="0.22">Snow</text>
<text transform="matrix(1.0484 0 0 1 206.13 1201)" x="0" y="0" font-size="20.2" fill="#ff0000" textLength="68.61" lengthAdjust="spacing" stroke="#ff0000" stroke-width="0.22">height</text>
<text transform="matrix(1.0822 0 0 1 288.17 1201)" x="0" y="0" font-size="20.2" fill="#ff0000" textLength="49.77" lengthAdjust="spacing" stroke="#ff0000" stroke-width="0.22">(cm)</text>
<text transform="matrix(1.0070 0 0 1 137.39 1228.6)" x="0" y="0" font-size="20.2" fill="#0000ff" textLength="56.68" lengthAdjust="spacing" stroke="#0000ff" stroke-width="0.22">Snow</text>
<text transform="matrix(1.0484 0 0 1 206.13 1228.6)" x="0" y="0" font-size="20.2" fill="#0000ff" textLength="68.61" lengthAdjust="spacing" stroke="#0000ff" stroke-width="0.22">height</text>
<text transform="matrix(1.0694 0 0 1 288.19 1228.6)" x="0" y="0" font-size="20.2" fill="#0000ff" textLength="40.86" lengthAdjust="spacing" stroke="#0000ff" stroke-width="0.22">(cm</text>
<text x="342.91" y="1228.6" font-size="20.2" fill="#0000ff" textLength="52.59" lengthAdjust="spacingAndGlyphs" stroke="#0000ff" stroke-width="0.22">W.E.)</text>
<text transform="matrix(1.0095 0 0 1 0.94 1413.5)" x="0" y="0" font-size="15.2" fill="#ff0000" textLength="81.17" lengthAdjust="spacing" stroke="#ff0000" stroke-width="0.3">MARv3.14</text>
<text transform="matrix(1.0777 0 0 1 91.21 1413.5)" x="0" y="0" font-size="15.2" fill="#ff0000" textLength="50.74" lengthAdjust="spacing" stroke="#ff0000" stroke-width="0.3">model</text>
<text transform="matrix(1.0721 0 0 1 155.21 1413.5)" x="0" y="0" font-size="15.2" fill="#ff0000" textLength="52.76" lengthAdjust="spacing" stroke="#ff0000" stroke-width="0.3">forced</text>
<text transform="matrix(1.0376 0 0 1 222.05 1413.5)" x="0" y="0" font-size="15.2" fill="#ff0000" textLength="18.99" lengthAdjust="spacing" stroke="#ff0000" stroke-width="0.3">by</text>
<text transform="matrix(1.0154 0 0 1 249.93 1413.5)" x="0" y="0" font-size="15.2" fill="#ff0000" textLength="33.58" lengthAdjust="spacing" stroke="#ff0000" stroke-width="0.3">GFS</text>
<text transform="matrix(1.1200 0 0 1 0.35 1434.3)" x="0" y="0" font-size="15.2" fill="#ff0000" textLength="23.03" lengthAdjust="spacing" stroke="#ff0000" stroke-width="0.3">(c)</text>
<text transform="matrix(1.0579 0 0 1 33.41 1434.3)" x="0" y="0" font-size="15.2" fill="#ff0000" textLength="35.54" lengthAdjust="spacing" stroke="#ff0000" stroke-width="0.3">Lab.</text>
<text transform="matrix(1.0416 0 0 1 79.31 1434.3)" x="0" y="0" font-size="15.2" fill="#ff0000" textLength="15.4" lengthAdjust="spacing" stroke="#ff0000" stroke-width="0.3">of</text>
<text transform="matrix(1.0852 0 0 1 104.57 1434.3)" x="0" y="0" font-size="15.2" fill="#ff0000" textLength="105.34" lengthAdjust="spacing" stroke="#ff0000" stroke-width="0.3">Climatology,</text>
<text transform="matrix(1.0686 0 0 1 226.04 1434.3)" x="0" y="0" font-size="15.2" fill="#ff0000" textLength="85.08" lengthAdjust="spacing" stroke="#ff0000" stroke-width="0.3">University</text>
<text transform="matrix(1.0383 0 0 1 326.11 1434.3)" x="0" y="0" font-size="15.2" fill="#ff0000" textLength="15.35" lengthAdjust="spacing" stroke="#ff0000" stroke-width="0.3">of</text>
<text transform="matrix(1.0290 0 0 1 352.44 1434.3)" x="0" y="0" font-size="15.2" fill="#ff0000" textLength="43.87" lengthAdjust="spacing" stroke="#ff0000" stroke-width="0.3">Liege</text>
<text transform="matrix(1.0085 0 0 1 456.09 1423.4)" x="0" y="0" font-size="21" fill="#000" textLength="53.51" lengthAdjust="spacing">Time</text>
<text x="522.05" y="1423.4" font-size="21" fill="#000" textLength="41.45" lengthAdjust="spacingAndGlyphs">UTC</text>
<text x="574.01" y="1423.4" font-size="21" fill="#000" textLength="108.07" lengthAdjust="spacingAndGlyphs">(GMT+0h)</text>
<text x="690.73" y="1423.4" font-size="21" fill="#000" textLength="36.37" lengthAdjust="spacingAndGlyphs">JAN</text>
<text transform="matrix(1.0317 0 0 1 857.01 1427)" x="0" y="0" font-size="27.4" fill="#2323ff" textLength="144.36" lengthAdjust="spacing">Gembloux</text>
<text transform="matrix(1.0789 0 0 1 1019.06 1427)" x="0" y="0" font-size="27.4" fill="#2323ff" textLength="59.51" lengthAdjust="spacing">(alt.</text>
<text transform="matrix(1.0350 0 0 1 1097.14 1427)" x="0" y="0" font-size="27.4" fill="#2323ff" textLength="91.89" lengthAdjust="spacing">157m)</text>
</svg></body></html>
